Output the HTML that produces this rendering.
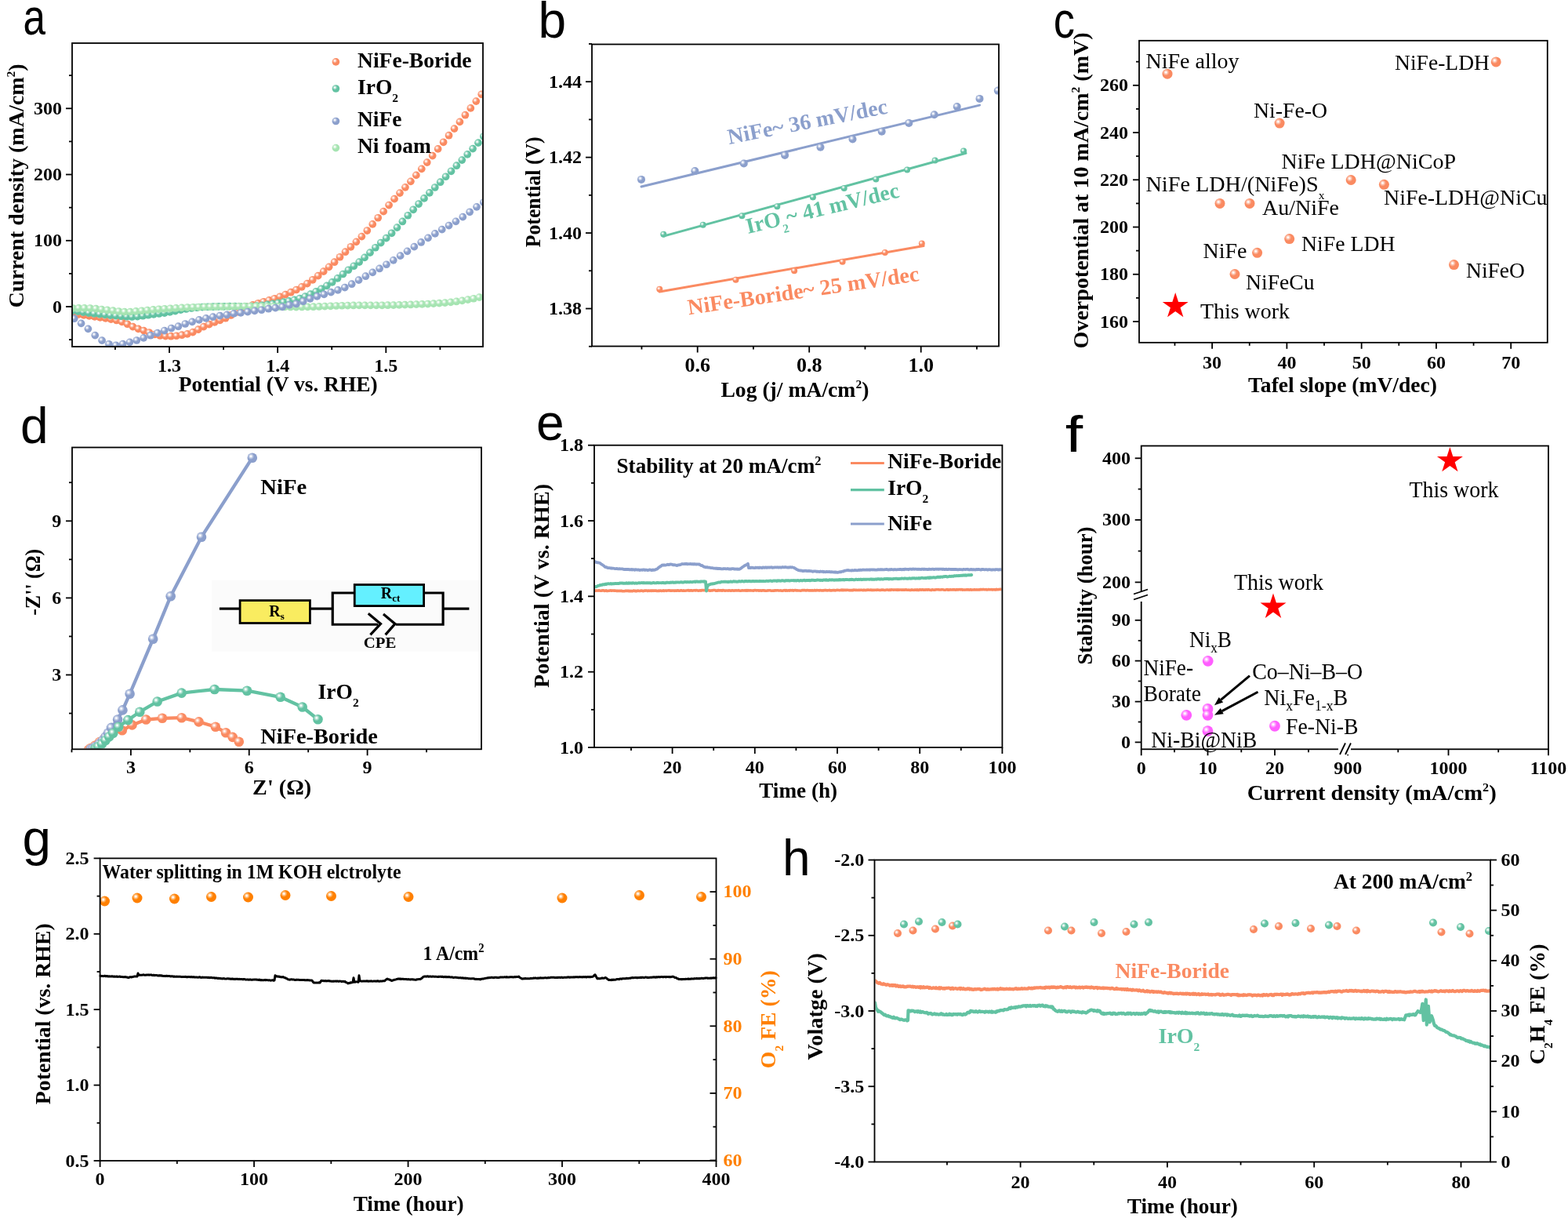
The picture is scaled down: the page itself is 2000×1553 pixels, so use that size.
<!DOCTYPE html><html><head><meta charset="utf-8"><title>Figure</title><style>html,body{margin:0;padding:0;background:#fff;overflow:hidden;}svg{display:block;}</style></head><body><svg width="2000" height="1553" viewBox="0 0 2000 1553"><defs><clipPath id="ca"><rect x="93" y="56" width="522" height="385"/></clipPath><radialGradient id="g0" cx="0.36" cy="0.35" r="0.66" gradientUnits="objectBoundingBox"><stop offset="0" stop-color="#ffffff"/><stop offset="0.07" stop-color="#ffffff"/><stop offset="0.25" stop-color="#fcc4b0"/><stop offset="0.5" stop-color="#FA8A61"/><stop offset="1" stop-color="#FA8A61"/></radialGradient><radialGradient id="g1" cx="0.36" cy="0.35" r="0.66" gradientUnits="objectBoundingBox"><stop offset="0" stop-color="#ffffff"/><stop offset="0.07" stop-color="#ffffff"/><stop offset="0.25" stop-color="#b0e0d0"/><stop offset="0.5" stop-color="#62C2A2"/><stop offset="1" stop-color="#62C2A2"/></radialGradient><radialGradient id="g2" cx="0.36" cy="0.35" r="0.66" gradientUnits="objectBoundingBox"><stop offset="0" stop-color="#ffffff"/><stop offset="0.07" stop-color="#ffffff"/><stop offset="0.25" stop-color="#d2f2d8"/><stop offset="0.5" stop-color="#A6E4B2"/><stop offset="1" stop-color="#A6E4B2"/></radialGradient><radialGradient id="g3" cx="0.36" cy="0.35" r="0.66" gradientUnits="objectBoundingBox"><stop offset="0" stop-color="#ffffff"/><stop offset="0.07" stop-color="#ffffff"/><stop offset="0.25" stop-color="#c5cfe6"/><stop offset="0.5" stop-color="#8B9FCC"/><stop offset="1" stop-color="#8B9FCC"/></radialGradient><clipPath id="cb"><rect x="756" y="57.5" width="517" height="383"/></clipPath><clipPath id="cd"><rect x="93" y="571.5" width="520" height="382.8"/></clipPath><clipPath id="ce"><rect x="759" y="568.5" width="518.5" height="383.5"/></clipPath><radialGradient id="g4" cx="0.36" cy="0.35" r="0.66" gradientUnits="objectBoundingBox"><stop offset="0" stop-color="#ffffff"/><stop offset="0.07" stop-color="#ffffff"/><stop offset="0.25" stop-color="#ffaeff"/><stop offset="0.5" stop-color="#FF5EFF"/><stop offset="1" stop-color="#FF5EFF"/></radialGradient><radialGradient id="g5" cx="0.36" cy="0.35" r="0.66" gradientUnits="objectBoundingBox"><stop offset="0" stop-color="#ffffff"/><stop offset="0.07" stop-color="#ffffff"/><stop offset="0.25" stop-color="#ffc080"/><stop offset="0.5" stop-color="#FF8000"/><stop offset="1" stop-color="#FF8000"/></radialGradient><clipPath id="ch"><rect x="1116.5" y="1097.5" width="783.5" height="383"/></clipPath></defs><rect x="0" y="0" width="2000" height="1553" fill="#fff"/><text x="29.5" y="43.5" font-family="'Liberation Sans',Arial,sans-serif" font-size="64" font-weight="normal" fill="#000" text-anchor="start" textLength="28.5" lengthAdjust="spacingAndGlyphs" >a</text>
<g clip-path="url(#ca)">
<circle cx="93" cy="400" r="4.85" fill="url(#g0)"/>
<circle cx="99.95" cy="400.96" r="4.85" fill="url(#g0)"/>
<circle cx="106.9" cy="401.92" r="4.85" fill="url(#g0)"/>
<circle cx="113.85" cy="402.88" r="4.85" fill="url(#g0)"/>
<circle cx="120.8" cy="403.87" r="4.85" fill="url(#g0)"/>
<circle cx="127.75" cy="404.86" r="4.85" fill="url(#g0)"/>
<circle cx="134.7" cy="405.88" r="4.85" fill="url(#g0)"/>
<circle cx="141.65" cy="407.09" r="4.85" fill="url(#g0)"/>
<circle cx="148.6" cy="408.51" r="4.85" fill="url(#g0)"/>
<circle cx="155.55" cy="410.41" r="4.85" fill="url(#g0)"/>
<circle cx="162.5" cy="413.25" r="4.85" fill="url(#g0)"/>
<circle cx="169.45" cy="416.61" r="4.85" fill="url(#g0)"/>
<circle cx="176.4" cy="419.35" r="4.85" fill="url(#g0)"/>
<circle cx="183.35" cy="421.61" r="4.85" fill="url(#g0)"/>
<circle cx="190.3" cy="424.02" r="4.85" fill="url(#g0)"/>
<circle cx="197.25" cy="426.5" r="4.85" fill="url(#g0)"/>
<circle cx="204.2" cy="428.02" r="4.85" fill="url(#g0)"/>
<circle cx="211.15" cy="428.61" r="4.85" fill="url(#g0)"/>
<circle cx="218.1" cy="428.71" r="4.85" fill="url(#g0)"/>
<circle cx="225.05" cy="428.27" r="4.85" fill="url(#g0)"/>
<circle cx="232" cy="427.21" r="4.85" fill="url(#g0)"/>
<circle cx="238.95" cy="425.87" r="4.85" fill="url(#g0)"/>
<circle cx="245.9" cy="423.64" r="4.85" fill="url(#g0)"/>
<circle cx="252.85" cy="420.19" r="4.85" fill="url(#g0)"/>
<circle cx="259.8" cy="416.62" r="4.85" fill="url(#g0)"/>
<circle cx="266.75" cy="413.64" r="4.85" fill="url(#g0)"/>
<circle cx="273.7" cy="410.9" r="4.85" fill="url(#g0)"/>
<circle cx="280.65" cy="408.32" r="4.85" fill="url(#g0)"/>
<circle cx="287.6" cy="405.76" r="4.85" fill="url(#g0)"/>
<circle cx="294.55" cy="401.95" r="4.85" fill="url(#g0)"/>
<circle cx="301.5" cy="398.03" r="4.85" fill="url(#g0)"/>
<circle cx="308.45" cy="394.42" r="4.85" fill="url(#g0)"/>
<circle cx="315.4" cy="391.26" r="4.85" fill="url(#g0)"/>
<circle cx="322.35" cy="388.87" r="4.85" fill="url(#g0)"/>
<circle cx="329.3" cy="386.8" r="4.85" fill="url(#g0)"/>
<circle cx="336.25" cy="384.8" r="4.85" fill="url(#g0)"/>
<circle cx="343.2" cy="382.87" r="4.85" fill="url(#g0)"/>
<circle cx="350.15" cy="380.75" r="4.85" fill="url(#g0)"/>
<circle cx="357.1" cy="378.27" r="4.85" fill="url(#g0)"/>
<circle cx="364.05" cy="375.59" r="4.85" fill="url(#g0)"/>
<circle cx="371" cy="372.7" r="4.85" fill="url(#g0)"/>
<circle cx="377.95" cy="369.52" r="4.85" fill="url(#g0)"/>
<circle cx="384.9" cy="365.85" r="4.85" fill="url(#g0)"/>
<circle cx="391.85" cy="361.57" r="4.85" fill="url(#g0)"/>
<circle cx="398.8" cy="356.78" r="4.85" fill="url(#g0)"/>
<circle cx="405.75" cy="351.68" r="4.85" fill="url(#g0)"/>
<circle cx="412.7" cy="346.16" r="4.85" fill="url(#g0)"/>
<circle cx="419.65" cy="340.33" r="4.85" fill="url(#g0)"/>
<circle cx="426.6" cy="334.21" r="4.85" fill="url(#g0)"/>
<circle cx="433.55" cy="327.76" r="4.85" fill="url(#g0)"/>
<circle cx="440.5" cy="321.22" r="4.85" fill="url(#g0)"/>
<circle cx="447.45" cy="314.79" r="4.85" fill="url(#g0)"/>
<circle cx="454.4" cy="308.37" r="4.85" fill="url(#g0)"/>
<circle cx="461.35" cy="301.58" r="4.85" fill="url(#g0)"/>
<circle cx="468.3" cy="294.03" r="4.85" fill="url(#g0)"/>
<circle cx="475.25" cy="285.88" r="4.85" fill="url(#g0)"/>
<circle cx="482.2" cy="277.74" r="4.85" fill="url(#g0)"/>
<circle cx="489.15" cy="269.64" r="4.85" fill="url(#g0)"/>
<circle cx="496.1" cy="261.54" r="4.85" fill="url(#g0)"/>
<circle cx="503.05" cy="253.62" r="4.85" fill="url(#g0)"/>
<circle cx="510" cy="246.08" r="4.85" fill="url(#g0)"/>
<circle cx="516.95" cy="238.81" r="4.85" fill="url(#g0)"/>
<circle cx="523.9" cy="231.33" r="4.85" fill="url(#g0)"/>
<circle cx="530.85" cy="223.44" r="4.85" fill="url(#g0)"/>
<circle cx="537.8" cy="215.33" r="4.85" fill="url(#g0)"/>
<circle cx="544.75" cy="207.06" r="4.85" fill="url(#g0)"/>
<circle cx="551.7" cy="198.58" r="4.85" fill="url(#g0)"/>
<circle cx="558.65" cy="189.91" r="4.85" fill="url(#g0)"/>
<circle cx="565.6" cy="181.29" r="4.85" fill="url(#g0)"/>
<circle cx="572.55" cy="172.7" r="4.85" fill="url(#g0)"/>
<circle cx="579.5" cy="164.09" r="4.85" fill="url(#g0)"/>
<circle cx="586.45" cy="155.44" r="4.85" fill="url(#g0)"/>
<circle cx="593.4" cy="146.7" r="4.85" fill="url(#g0)"/>
<circle cx="600.35" cy="137.91" r="4.85" fill="url(#g0)"/>
<circle cx="607.3" cy="129.11" r="4.85" fill="url(#g0)"/>
<circle cx="614.25" cy="120.3" r="4.85" fill="url(#g0)"/>
<circle cx="92.5" cy="396.17" r="4.85" fill="url(#g1)"/>
<circle cx="99.4" cy="397.14" r="4.85" fill="url(#g1)"/>
<circle cx="106.3" cy="398.1" r="4.85" fill="url(#g1)"/>
<circle cx="113.2" cy="399.03" r="4.85" fill="url(#g1)"/>
<circle cx="120.1" cy="399.89" r="4.85" fill="url(#g1)"/>
<circle cx="127" cy="400.66" r="4.85" fill="url(#g1)"/>
<circle cx="133.9" cy="401.37" r="4.85" fill="url(#g1)"/>
<circle cx="140.8" cy="402.03" r="4.85" fill="url(#g1)"/>
<circle cx="147.7" cy="402.65" r="4.85" fill="url(#g1)"/>
<circle cx="154.6" cy="403.21" r="4.85" fill="url(#g1)"/>
<circle cx="161.5" cy="403.76" r="4.85" fill="url(#g1)"/>
<circle cx="168.4" cy="403.96" r="4.85" fill="url(#g1)"/>
<circle cx="175.3" cy="403.56" r="4.85" fill="url(#g1)"/>
<circle cx="182.2" cy="402.7" r="4.85" fill="url(#g1)"/>
<circle cx="189.1" cy="401.72" r="4.85" fill="url(#g1)"/>
<circle cx="196" cy="400.85" r="4.85" fill="url(#g1)"/>
<circle cx="202.9" cy="399.99" r="4.85" fill="url(#g1)"/>
<circle cx="209.8" cy="399.04" r="4.85" fill="url(#g1)"/>
<circle cx="216.7" cy="397.94" r="4.85" fill="url(#g1)"/>
<circle cx="223.6" cy="396.58" r="4.85" fill="url(#g1)"/>
<circle cx="230.5" cy="395.19" r="4.85" fill="url(#g1)"/>
<circle cx="237.4" cy="393.99" r="4.85" fill="url(#g1)"/>
<circle cx="244.3" cy="393.02" r="4.85" fill="url(#g1)"/>
<circle cx="251.2" cy="392.23" r="4.85" fill="url(#g1)"/>
<circle cx="258.1" cy="391.66" r="4.85" fill="url(#g1)"/>
<circle cx="265" cy="391.27" r="4.85" fill="url(#g1)"/>
<circle cx="271.9" cy="391.04" r="4.85" fill="url(#g1)"/>
<circle cx="278.8" cy="390.89" r="4.85" fill="url(#g1)"/>
<circle cx="285.7" cy="390.79" r="4.85" fill="url(#g1)"/>
<circle cx="292.6" cy="390.69" r="4.85" fill="url(#g1)"/>
<circle cx="299.5" cy="390.7" r="4.85" fill="url(#g1)"/>
<circle cx="306.4" cy="390.79" r="4.85" fill="url(#g1)"/>
<circle cx="313.3" cy="390.82" r="4.85" fill="url(#g1)"/>
<circle cx="320.2" cy="390.63" r="4.85" fill="url(#g1)"/>
<circle cx="327.1" cy="390.12" r="4.85" fill="url(#g1)"/>
<circle cx="334" cy="389.37" r="4.85" fill="url(#g1)"/>
<circle cx="340.9" cy="388.45" r="4.85" fill="url(#g1)"/>
<circle cx="347.8" cy="387.41" r="4.85" fill="url(#g1)"/>
<circle cx="354.7" cy="386.31" r="4.85" fill="url(#g1)"/>
<circle cx="361.6" cy="385.16" r="4.85" fill="url(#g1)"/>
<circle cx="368.5" cy="383.9" r="4.85" fill="url(#g1)"/>
<circle cx="375.4" cy="382.41" r="4.85" fill="url(#g1)"/>
<circle cx="382.3" cy="380.51" r="4.85" fill="url(#g1)"/>
<circle cx="389.2" cy="378.07" r="4.85" fill="url(#g1)"/>
<circle cx="396.1" cy="375.11" r="4.85" fill="url(#g1)"/>
<circle cx="403" cy="371.84" r="4.85" fill="url(#g1)"/>
<circle cx="409.9" cy="368.29" r="4.85" fill="url(#g1)"/>
<circle cx="416.8" cy="364.35" r="4.85" fill="url(#g1)"/>
<circle cx="423.7" cy="359.92" r="4.85" fill="url(#g1)"/>
<circle cx="430.6" cy="354.85" r="4.85" fill="url(#g1)"/>
<circle cx="437.5" cy="349.49" r="4.85" fill="url(#g1)"/>
<circle cx="444.4" cy="344.27" r="4.85" fill="url(#g1)"/>
<circle cx="451.3" cy="339.24" r="4.85" fill="url(#g1)"/>
<circle cx="458.2" cy="334.07" r="4.85" fill="url(#g1)"/>
<circle cx="465.1" cy="328.4" r="4.85" fill="url(#g1)"/>
<circle cx="472" cy="322.19" r="4.85" fill="url(#g1)"/>
<circle cx="478.9" cy="315.76" r="4.85" fill="url(#g1)"/>
<circle cx="485.8" cy="309.53" r="4.85" fill="url(#g1)"/>
<circle cx="492.7" cy="303.63" r="4.85" fill="url(#g1)"/>
<circle cx="499.6" cy="297.29" r="4.85" fill="url(#g1)"/>
<circle cx="506.5" cy="290.1" r="4.85" fill="url(#g1)"/>
<circle cx="513.4" cy="282.45" r="4.85" fill="url(#g1)"/>
<circle cx="520.3" cy="274.75" r="4.85" fill="url(#g1)"/>
<circle cx="527.2" cy="267.3" r="4.85" fill="url(#g1)"/>
<circle cx="534.1" cy="260.03" r="4.85" fill="url(#g1)"/>
<circle cx="541" cy="252.89" r="4.85" fill="url(#g1)"/>
<circle cx="547.9" cy="245.87" r="4.85" fill="url(#g1)"/>
<circle cx="554.8" cy="239.01" r="4.85" fill="url(#g1)"/>
<circle cx="561.7" cy="232.2" r="4.85" fill="url(#g1)"/>
<circle cx="568.6" cy="225.27" r="4.85" fill="url(#g1)"/>
<circle cx="575.5" cy="218.29" r="4.85" fill="url(#g1)"/>
<circle cx="582.4" cy="211.22" r="4.85" fill="url(#g1)"/>
<circle cx="589.3" cy="204.07" r="4.85" fill="url(#g1)"/>
<circle cx="596.2" cy="196.88" r="4.85" fill="url(#g1)"/>
<circle cx="603.1" cy="189.62" r="4.85" fill="url(#g1)"/>
<circle cx="610" cy="182.19" r="4.85" fill="url(#g1)"/>
<circle cx="616.9" cy="173.99" r="4.85" fill="url(#g1)"/>
<circle cx="93.1" cy="393" r="4.85" fill="url(#g2)"/>
<circle cx="100.4" cy="392.89" r="4.85" fill="url(#g2)"/>
<circle cx="107.7" cy="392.83" r="4.85" fill="url(#g2)"/>
<circle cx="115" cy="393.01" r="4.85" fill="url(#g2)"/>
<circle cx="122.3" cy="393.63" r="4.85" fill="url(#g2)"/>
<circle cx="129.6" cy="394.5" r="4.85" fill="url(#g2)"/>
<circle cx="136.9" cy="395.34" r="4.85" fill="url(#g2)"/>
<circle cx="144.2" cy="396.18" r="4.85" fill="url(#g2)"/>
<circle cx="151.5" cy="397.01" r="4.85" fill="url(#g2)"/>
<circle cx="158.8" cy="397.65" r="4.85" fill="url(#g2)"/>
<circle cx="166.1" cy="397.64" r="4.85" fill="url(#g2)"/>
<circle cx="173.4" cy="396.93" r="4.85" fill="url(#g2)"/>
<circle cx="180.7" cy="396.27" r="4.85" fill="url(#g2)"/>
<circle cx="188" cy="395.56" r="4.85" fill="url(#g2)"/>
<circle cx="195.3" cy="394.87" r="4.85" fill="url(#g2)"/>
<circle cx="202.6" cy="394.28" r="4.85" fill="url(#g2)"/>
<circle cx="209.9" cy="393.76" r="4.85" fill="url(#g2)"/>
<circle cx="217.2" cy="393.28" r="4.85" fill="url(#g2)"/>
<circle cx="224.5" cy="392.84" r="4.85" fill="url(#g2)"/>
<circle cx="231.8" cy="392.41" r="4.85" fill="url(#g2)"/>
<circle cx="239.1" cy="392.04" r="4.85" fill="url(#g2)"/>
<circle cx="246.4" cy="391.75" r="4.85" fill="url(#g2)"/>
<circle cx="253.7" cy="391.54" r="4.85" fill="url(#g2)"/>
<circle cx="261" cy="391.38" r="4.85" fill="url(#g2)"/>
<circle cx="268.3" cy="391.24" r="4.85" fill="url(#g2)"/>
<circle cx="275.6" cy="391.11" r="4.85" fill="url(#g2)"/>
<circle cx="282.9" cy="390.98" r="4.85" fill="url(#g2)"/>
<circle cx="290.2" cy="390.87" r="4.85" fill="url(#g2)"/>
<circle cx="297.5" cy="390.78" r="4.85" fill="url(#g2)"/>
<circle cx="304.8" cy="390.72" r="4.85" fill="url(#g2)"/>
<circle cx="312.1" cy="390.67" r="4.85" fill="url(#g2)"/>
<circle cx="319.4" cy="390.63" r="4.85" fill="url(#g2)"/>
<circle cx="326.7" cy="390.62" r="4.85" fill="url(#g2)"/>
<circle cx="334" cy="390.66" r="4.85" fill="url(#g2)"/>
<circle cx="341.3" cy="390.76" r="4.85" fill="url(#g2)"/>
<circle cx="348.6" cy="390.96" r="4.85" fill="url(#g2)"/>
<circle cx="355.9" cy="391.2" r="4.85" fill="url(#g2)"/>
<circle cx="363.2" cy="391.41" r="4.85" fill="url(#g2)"/>
<circle cx="370.5" cy="391.51" r="4.85" fill="url(#g2)"/>
<circle cx="377.8" cy="391.53" r="4.85" fill="url(#g2)"/>
<circle cx="385.1" cy="391.49" r="4.85" fill="url(#g2)"/>
<circle cx="392.4" cy="391.37" r="4.85" fill="url(#g2)"/>
<circle cx="399.7" cy="391.21" r="4.85" fill="url(#g2)"/>
<circle cx="407" cy="390.96" r="4.85" fill="url(#g2)"/>
<circle cx="414.3" cy="390.63" r="4.85" fill="url(#g2)"/>
<circle cx="421.6" cy="390.29" r="4.85" fill="url(#g2)"/>
<circle cx="428.9" cy="389.98" r="4.85" fill="url(#g2)"/>
<circle cx="436.2" cy="389.74" r="4.85" fill="url(#g2)"/>
<circle cx="443.5" cy="389.57" r="4.85" fill="url(#g2)"/>
<circle cx="450.8" cy="389.47" r="4.85" fill="url(#g2)"/>
<circle cx="458.1" cy="389.42" r="4.85" fill="url(#g2)"/>
<circle cx="465.4" cy="389.39" r="4.85" fill="url(#g2)"/>
<circle cx="472.7" cy="389.37" r="4.85" fill="url(#g2)"/>
<circle cx="480" cy="389.34" r="4.85" fill="url(#g2)"/>
<circle cx="487.3" cy="389.29" r="4.85" fill="url(#g2)"/>
<circle cx="494.6" cy="389.22" r="4.85" fill="url(#g2)"/>
<circle cx="501.9" cy="389.1" r="4.85" fill="url(#g2)"/>
<circle cx="509.2" cy="388.91" r="4.85" fill="url(#g2)"/>
<circle cx="516.5" cy="388.69" r="4.85" fill="url(#g2)"/>
<circle cx="523.8" cy="388.45" r="4.85" fill="url(#g2)"/>
<circle cx="531.1" cy="388.18" r="4.85" fill="url(#g2)"/>
<circle cx="538.4" cy="387.87" r="4.85" fill="url(#g2)"/>
<circle cx="545.7" cy="387.53" r="4.85" fill="url(#g2)"/>
<circle cx="553" cy="387.14" r="4.85" fill="url(#g2)"/>
<circle cx="560.3" cy="386.68" r="4.85" fill="url(#g2)"/>
<circle cx="567.6" cy="386.11" r="4.85" fill="url(#g2)"/>
<circle cx="574.9" cy="385.38" r="4.85" fill="url(#g2)"/>
<circle cx="582.2" cy="384.45" r="4.85" fill="url(#g2)"/>
<circle cx="589.5" cy="383.32" r="4.85" fill="url(#g2)"/>
<circle cx="596.8" cy="382.06" r="4.85" fill="url(#g2)"/>
<circle cx="604.1" cy="380.74" r="4.85" fill="url(#g2)"/>
<circle cx="611.4" cy="379.13" r="4.85" fill="url(#g2)"/>
<circle cx="618.7" cy="377.31" r="4.85" fill="url(#g2)"/>
<circle cx="94.7" cy="406.2" r="4.85" fill="url(#g3)"/>
<circle cx="103.55" cy="412.36" r="4.85" fill="url(#g3)"/>
<circle cx="112.4" cy="419.31" r="4.85" fill="url(#g3)"/>
<circle cx="121.25" cy="427.61" r="4.85" fill="url(#g3)"/>
<circle cx="130.1" cy="434.16" r="4.85" fill="url(#g3)"/>
<circle cx="138.95" cy="438.75" r="4.85" fill="url(#g3)"/>
<circle cx="147.8" cy="440.29" r="4.85" fill="url(#g3)"/>
<circle cx="156.65" cy="438.62" r="4.85" fill="url(#g3)"/>
<circle cx="165.5" cy="436.32" r="4.85" fill="url(#g3)"/>
<circle cx="174.35" cy="433.99" r="4.85" fill="url(#g3)"/>
<circle cx="183.2" cy="430.82" r="4.85" fill="url(#g3)"/>
<circle cx="192.05" cy="427.71" r="4.85" fill="url(#g3)"/>
<circle cx="200.9" cy="424.63" r="4.85" fill="url(#g3)"/>
<circle cx="209.75" cy="421.58" r="4.85" fill="url(#g3)"/>
<circle cx="218.6" cy="418.51" r="4.85" fill="url(#g3)"/>
<circle cx="227.45" cy="416.22" r="4.85" fill="url(#g3)"/>
<circle cx="236.3" cy="413" r="4.85" fill="url(#g3)"/>
<circle cx="245.15" cy="410.36" r="4.85" fill="url(#g3)"/>
<circle cx="254" cy="407.87" r="4.85" fill="url(#g3)"/>
<circle cx="262.85" cy="405.83" r="4.85" fill="url(#g3)"/>
<circle cx="271.7" cy="404.14" r="4.85" fill="url(#g3)"/>
<circle cx="280.55" cy="402.55" r="4.85" fill="url(#g3)"/>
<circle cx="289.4" cy="401.47" r="4.85" fill="url(#g3)"/>
<circle cx="298.25" cy="399.92" r="4.85" fill="url(#g3)"/>
<circle cx="307.1" cy="398.89" r="4.85" fill="url(#g3)"/>
<circle cx="315.95" cy="397.63" r="4.85" fill="url(#g3)"/>
<circle cx="324.8" cy="396.35" r="4.85" fill="url(#g3)"/>
<circle cx="333.65" cy="395.26" r="4.85" fill="url(#g3)"/>
<circle cx="342.5" cy="393.72" r="4.85" fill="url(#g3)"/>
<circle cx="351.35" cy="392.68" r="4.85" fill="url(#g3)"/>
<circle cx="360.2" cy="391.39" r="4.85" fill="url(#g3)"/>
<circle cx="369.05" cy="388.93" r="4.85" fill="url(#g3)"/>
<circle cx="377.9" cy="387.49" r="4.85" fill="url(#g3)"/>
<circle cx="386.75" cy="384.22" r="4.85" fill="url(#g3)"/>
<circle cx="395.6" cy="380.84" r="4.85" fill="url(#g3)"/>
<circle cx="404.45" cy="377.91" r="4.85" fill="url(#g3)"/>
<circle cx="413.3" cy="375.38" r="4.85" fill="url(#g3)"/>
<circle cx="422.15" cy="372.69" r="4.85" fill="url(#g3)"/>
<circle cx="431" cy="369.84" r="4.85" fill="url(#g3)"/>
<circle cx="439.85" cy="366.55" r="4.85" fill="url(#g3)"/>
<circle cx="448.7" cy="362.21" r="4.85" fill="url(#g3)"/>
<circle cx="457.55" cy="357.15" r="4.85" fill="url(#g3)"/>
<circle cx="466.4" cy="352.22" r="4.85" fill="url(#g3)"/>
<circle cx="475.25" cy="347.43" r="4.85" fill="url(#g3)"/>
<circle cx="484.1" cy="342.47" r="4.85" fill="url(#g3)"/>
<circle cx="492.95" cy="337.24" r="4.85" fill="url(#g3)"/>
<circle cx="501.8" cy="331.82" r="4.85" fill="url(#g3)"/>
<circle cx="510.65" cy="326.17" r="4.85" fill="url(#g3)"/>
<circle cx="519.5" cy="320.34" r="4.85" fill="url(#g3)"/>
<circle cx="528.35" cy="314.64" r="4.85" fill="url(#g3)"/>
<circle cx="537.2" cy="308.97" r="4.85" fill="url(#g3)"/>
<circle cx="546.05" cy="303.36" r="4.85" fill="url(#g3)"/>
<circle cx="554.9" cy="297.88" r="4.85" fill="url(#g3)"/>
<circle cx="563.75" cy="292.64" r="4.85" fill="url(#g3)"/>
<circle cx="572.6" cy="287.54" r="4.85" fill="url(#g3)"/>
<circle cx="581.45" cy="282.32" r="4.85" fill="url(#g3)"/>
<circle cx="590.3" cy="276.65" r="4.85" fill="url(#g3)"/>
<circle cx="599.15" cy="270.3" r="4.85" fill="url(#g3)"/>
<circle cx="608" cy="263.83" r="4.85" fill="url(#g3)"/>
<circle cx="616.85" cy="258" r="4.85" fill="url(#g3)"/>
</g>
<rect x="92" y="55" width="524" height="387" fill="none" stroke="#000" stroke-width="1.8"/>
<line x1="84" y1="391" x2="92" y2="391" stroke="#000" stroke-width="1.8" stroke-linecap="butt"/>
<line x1="84" y1="306.77" x2="92" y2="306.77" stroke="#000" stroke-width="1.8" stroke-linecap="butt"/>
<line x1="84" y1="222.53" x2="92" y2="222.53" stroke="#000" stroke-width="1.8" stroke-linecap="butt"/>
<line x1="84" y1="138.3" x2="92" y2="138.3" stroke="#000" stroke-width="1.8" stroke-linecap="butt"/>
<line x1="88" y1="433.12" x2="92" y2="433.12" stroke="#000" stroke-width="1.8" stroke-linecap="butt"/>
<line x1="88" y1="348.88" x2="92" y2="348.88" stroke="#000" stroke-width="1.8" stroke-linecap="butt"/>
<line x1="88" y1="264.65" x2="92" y2="264.65" stroke="#000" stroke-width="1.8" stroke-linecap="butt"/>
<line x1="88" y1="180.42" x2="92" y2="180.42" stroke="#000" stroke-width="1.8" stroke-linecap="butt"/>
<line x1="88" y1="96.18" x2="92" y2="96.18" stroke="#000" stroke-width="1.8" stroke-linecap="butt"/>
<line x1="216" y1="442" x2="216" y2="450" stroke="#000" stroke-width="1.8" stroke-linecap="butt"/>
<line x1="354.15" y1="442" x2="354.15" y2="450" stroke="#000" stroke-width="1.8" stroke-linecap="butt"/>
<line x1="492.3" y1="442" x2="492.3" y2="450" stroke="#000" stroke-width="1.8" stroke-linecap="butt"/>
<line x1="146.92" y1="442" x2="146.92" y2="446" stroke="#000" stroke-width="1.8" stroke-linecap="butt"/>
<line x1="285.08" y1="442" x2="285.08" y2="446" stroke="#000" stroke-width="1.8" stroke-linecap="butt"/>
<line x1="423.22" y1="442" x2="423.22" y2="446" stroke="#000" stroke-width="1.8" stroke-linecap="butt"/>
<line x1="561.38" y1="442" x2="561.38" y2="446" stroke="#000" stroke-width="1.8" stroke-linecap="butt"/>
<text x="79" y="398.56" font-family="'Liberation Serif','Times New Roman',serif" font-size="24" font-weight="bold" fill="#000" text-anchor="end" >0</text>
<text x="79" y="314.33" font-family="'Liberation Serif','Times New Roman',serif" font-size="24" font-weight="bold" fill="#000" text-anchor="end" >100</text>
<text x="79" y="230.09" font-family="'Liberation Serif','Times New Roman',serif" font-size="24" font-weight="bold" fill="#000" text-anchor="end" >200</text>
<text x="79" y="145.86" font-family="'Liberation Serif','Times New Roman',serif" font-size="24" font-weight="bold" fill="#000" text-anchor="end" >300</text>
<text x="216" y="474.2" font-family="'Liberation Serif','Times New Roman',serif" font-size="24" font-weight="bold" fill="#000" text-anchor="middle" >1.3</text>
<text x="354.15" y="474.2" font-family="'Liberation Serif','Times New Roman',serif" font-size="24" font-weight="bold" fill="#000" text-anchor="middle" >1.4</text>
<text x="492.3" y="474.2" font-family="'Liberation Serif','Times New Roman',serif" font-size="24" font-weight="bold" fill="#000" text-anchor="middle" >1.5</text>
<text x="354.7" y="499" font-family="'Liberation Serif','Times New Roman',serif" font-size="27" font-weight="bold" fill="#000" text-anchor="middle" textLength="254" lengthAdjust="spacingAndGlyphs" >Potential (V vs. RHE)</text>
<text x="29.7" y="236.9" font-family="'Liberation Serif','Times New Roman',serif" font-size="28" font-weight="bold" fill="#000" text-anchor="middle" textLength="311" lengthAdjust="spacingAndGlyphs" transform="rotate(-90 29.7 236.9)" >Current density (mA/cm<tspan font-size="15.5" dy="-11">2</tspan><tspan dy="11">)</tspan></text>
<circle cx="428.4" cy="78.9" r="4.8" fill="url(#g0)"/>
<text x="456" y="85.7" font-family="'Liberation Serif','Times New Roman',serif" font-size="27.5" font-weight="bold" fill="#000" text-anchor="start" textLength="145.5" lengthAdjust="spacingAndGlyphs" >NiFe-Boride</text>
<circle cx="428.4" cy="113" r="4.8" fill="url(#g1)"/>
<text x="456" y="119.9" font-family="'Liberation Serif','Times New Roman',serif" font-size="27.5" font-weight="bold" fill="#000" text-anchor="start" >IrO<tspan font-size="15.5" dy="10">2</tspan></text>
<circle cx="428.4" cy="154.5" r="4.8" fill="url(#g3)"/>
<text x="456" y="161.3" font-family="'Liberation Serif','Times New Roman',serif" font-size="27.5" font-weight="bold" fill="#000" text-anchor="start" >NiFe</text>
<circle cx="428.4" cy="188.6" r="4.8" fill="url(#g2)"/>
<text x="456" y="195" font-family="'Liberation Serif','Times New Roman',serif" font-size="27.5" font-weight="bold" fill="#000" text-anchor="start" >Ni foam</text>
<text x="686.5" y="48" font-family="'Liberation Sans',Arial,sans-serif" font-size="64" font-weight="normal" fill="#000" text-anchor="start" >b</text>
<g clip-path="url(#cb)">
<line x1="818" y1="238" x2="1249.5" y2="134.1" stroke="#8B9FCC" stroke-width="3" stroke-linecap="round"/>
<circle cx="818" cy="228.9" r="5" fill="url(#g3)"/>
<circle cx="886.4" cy="218.1" r="5" fill="url(#g3)"/>
<circle cx="948.8" cy="208.5" r="5" fill="url(#g3)"/>
<circle cx="1001.1" cy="197.9" r="5" fill="url(#g3)"/>
<circle cx="1046.5" cy="187.8" r="5" fill="url(#g3)"/>
<circle cx="1087.5" cy="177.5" r="5" fill="url(#g3)"/>
<circle cx="1124.7" cy="167.7" r="5" fill="url(#g3)"/>
<circle cx="1159.3" cy="156.9" r="5" fill="url(#g3)"/>
<circle cx="1191.7" cy="146.3" r="5" fill="url(#g3)"/>
<circle cx="1220.7" cy="136" r="5" fill="url(#g3)"/>
<circle cx="1249.5" cy="125.9" r="5" fill="url(#g3)"/>
<circle cx="1272.8" cy="115.6" r="5" fill="url(#g3)"/>
<line x1="846.3" y1="301.1" x2="1232" y2="195.3" stroke="#62C2A2" stroke-width="3" stroke-linecap="round"/>
<circle cx="846.3" cy="298.7" r="4" fill="url(#g1)"/>
<circle cx="896.7" cy="286.7" r="4" fill="url(#g1)"/>
<circle cx="946.4" cy="275.2" r="4" fill="url(#g1)"/>
<circle cx="991.3" cy="263.2" r="4" fill="url(#g1)"/>
<circle cx="1036.9" cy="251.4" r="4" fill="url(#g1)"/>
<circle cx="1076.7" cy="239.9" r="4" fill="url(#g1)"/>
<circle cx="1117.3" cy="228.4" r="4" fill="url(#g1)"/>
<circle cx="1157.1" cy="216.6" r="4" fill="url(#g1)"/>
<circle cx="1192.6" cy="204.6" r="4" fill="url(#g1)"/>
<circle cx="1229.1" cy="192.6" r="4" fill="url(#g1)"/>
<line x1="841.3" y1="371.9" x2="1178" y2="313.6" stroke="#FA8A61" stroke-width="3" stroke-linecap="round"/>
<circle cx="841.3" cy="368.8" r="4" fill="url(#g0)"/>
<circle cx="938.5" cy="356.8" r="4" fill="url(#g0)"/>
<circle cx="1013.1" cy="345.3" r="4" fill="url(#g0)"/>
<circle cx="1074.6" cy="333.8" r="4" fill="url(#g0)"/>
<circle cx="1128.8" cy="322" r="4" fill="url(#g0)"/>
<circle cx="1175.8" cy="310.5" r="4" fill="url(#g0)"/>
</g>
<rect x="755" y="56.5" width="519" height="385" fill="none" stroke="#000" stroke-width="1.8"/>
<line x1="747" y1="393.5" x2="755" y2="393.5" stroke="#000" stroke-width="1.8" stroke-linecap="butt"/>
<line x1="747" y1="297.07" x2="755" y2="297.07" stroke="#000" stroke-width="1.8" stroke-linecap="butt"/>
<line x1="747" y1="200.63" x2="755" y2="200.63" stroke="#000" stroke-width="1.8" stroke-linecap="butt"/>
<line x1="747" y1="104.2" x2="755" y2="104.2" stroke="#000" stroke-width="1.8" stroke-linecap="butt"/>
<line x1="751" y1="441.72" x2="755" y2="441.72" stroke="#000" stroke-width="1.8" stroke-linecap="butt"/>
<line x1="751" y1="345.28" x2="755" y2="345.28" stroke="#000" stroke-width="1.8" stroke-linecap="butt"/>
<line x1="751" y1="248.85" x2="755" y2="248.85" stroke="#000" stroke-width="1.8" stroke-linecap="butt"/>
<line x1="751" y1="152.42" x2="755" y2="152.42" stroke="#000" stroke-width="1.8" stroke-linecap="butt"/>
<line x1="751" y1="55.98" x2="755" y2="55.98" stroke="#000" stroke-width="1.8" stroke-linecap="butt"/>
<line x1="889.7" y1="441.5" x2="889.7" y2="449.5" stroke="#000" stroke-width="1.8" stroke-linecap="butt"/>
<line x1="1032.2" y1="441.5" x2="1032.2" y2="449.5" stroke="#000" stroke-width="1.8" stroke-linecap="butt"/>
<line x1="1174.7" y1="441.5" x2="1174.7" y2="449.5" stroke="#000" stroke-width="1.8" stroke-linecap="butt"/>
<line x1="818.45" y1="441.5" x2="818.45" y2="445.5" stroke="#000" stroke-width="1.8" stroke-linecap="butt"/>
<line x1="960.95" y1="441.5" x2="960.95" y2="445.5" stroke="#000" stroke-width="1.8" stroke-linecap="butt"/>
<line x1="1103.45" y1="441.5" x2="1103.45" y2="445.5" stroke="#000" stroke-width="1.8" stroke-linecap="butt"/>
<line x1="1245.95" y1="441.5" x2="1245.95" y2="445.5" stroke="#000" stroke-width="1.8" stroke-linecap="butt"/>
<text x="742" y="401.06" font-family="'Liberation Serif','Times New Roman',serif" font-size="24" font-weight="bold" fill="#000" text-anchor="end" >1.38</text>
<text x="742" y="304.63" font-family="'Liberation Serif','Times New Roman',serif" font-size="24" font-weight="bold" fill="#000" text-anchor="end" >1.40</text>
<text x="742" y="208.19" font-family="'Liberation Serif','Times New Roman',serif" font-size="24" font-weight="bold" fill="#000" text-anchor="end" >1.42</text>
<text x="742" y="111.76" font-family="'Liberation Serif','Times New Roman',serif" font-size="24" font-weight="bold" fill="#000" text-anchor="end" >1.44</text>
<text x="889.7" y="474" font-family="'Liberation Serif','Times New Roman',serif" font-size="26" font-weight="bold" fill="#000" text-anchor="middle" >0.6</text>
<text x="1032.2" y="474" font-family="'Liberation Serif','Times New Roman',serif" font-size="26" font-weight="bold" fill="#000" text-anchor="middle" >0.8</text>
<text x="1174.7" y="474" font-family="'Liberation Serif','Times New Roman',serif" font-size="26" font-weight="bold" fill="#000" text-anchor="middle" >1.0</text>
<text x="1013.9" y="505.5" font-family="'Liberation Serif','Times New Roman',serif" font-size="27.5" font-weight="bold" fill="#000" text-anchor="middle" textLength="189" lengthAdjust="spacingAndGlyphs" >Log (j/ mA/cm<tspan font-size="15.5" dy="-11">2</tspan><tspan dy="11">)</tspan></text>
<text x="689" y="244.8" font-family="'Liberation Serif','Times New Roman',serif" font-size="28" font-weight="bold" fill="#000" text-anchor="middle" textLength="141" lengthAdjust="spacingAndGlyphs" transform="rotate(-90 689 244.8)" >Potential (V)</text>
<text x="930" y="184" font-family="'Liberation Serif','Times New Roman',serif" font-size="28" font-weight="bold" fill="#8B9FCC" text-anchor="start" textLength="207" lengthAdjust="spacingAndGlyphs" transform="rotate(-11.05 930 184)" >NiFe~ 36 mV/dec</text>
<text x="954" y="298" font-family="'Liberation Serif','Times New Roman',serif" font-size="28" font-weight="bold" fill="#62C2A2" text-anchor="start" textLength="200" lengthAdjust="spacingAndGlyphs" transform="rotate(-13.6 954 298)" >IrO<tspan font-size="15.5" dy="10">2</tspan><tspan dy="-10">~ 41 mV/dec</tspan></text>
<text x="878.5" y="401.2" font-family="'Liberation Serif','Times New Roman',serif" font-size="28" font-weight="bold" fill="#FA8A61" text-anchor="start" textLength="298" lengthAdjust="spacingAndGlyphs" transform="rotate(-8.36 878.5 401.2)" >NiFe-Boride~ 25 mV/dec</text>
<text x="1343.8" y="47.5" font-family="'Liberation Sans',Arial,sans-serif" font-size="64" font-weight="normal" fill="#000" text-anchor="start" textLength="27.2" lengthAdjust="spacingAndGlyphs" >c</text>
<circle cx="1489" cy="94.2" r="6.5" fill="url(#g0)"/>
<circle cx="1908.2" cy="78.9" r="6.5" fill="url(#g0)"/>
<circle cx="1632.1" cy="157.1" r="6.5" fill="url(#g0)"/>
<circle cx="1723.2" cy="229.5" r="6.5" fill="url(#g0)"/>
<circle cx="1765.4" cy="235.3" r="6.5" fill="url(#g0)"/>
<circle cx="1556" cy="259.4" r="6.5" fill="url(#g0)"/>
<circle cx="1594" cy="259.4" r="6.5" fill="url(#g0)"/>
<circle cx="1644.7" cy="304.6" r="6.5" fill="url(#g0)"/>
<circle cx="1603.6" cy="322.3" r="6.5" fill="url(#g0)"/>
<circle cx="1575" cy="349.5" r="6.5" fill="url(#g0)"/>
<circle cx="1854.5" cy="337.6" r="6.5" fill="url(#g0)"/>
<polygon points="1499.2,373 1503.08,384.96 1515.65,384.95 1505.48,392.34 1509.37,404.3 1499.2,396.9 1489.03,404.3 1492.92,392.34 1482.75,384.95 1495.32,384.96" fill="#ff0000"/>
<rect x="1453" y="51.8" width="520.8" height="385" fill="none" stroke="#000" stroke-width="1.8"/>
<line x1="1445" y1="410" x2="1453" y2="410" stroke="#000" stroke-width="1.8" stroke-linecap="butt"/>
<line x1="1445" y1="349.76" x2="1453" y2="349.76" stroke="#000" stroke-width="1.8" stroke-linecap="butt"/>
<line x1="1445" y1="289.52" x2="1453" y2="289.52" stroke="#000" stroke-width="1.8" stroke-linecap="butt"/>
<line x1="1445" y1="229.28" x2="1453" y2="229.28" stroke="#000" stroke-width="1.8" stroke-linecap="butt"/>
<line x1="1445" y1="169.04" x2="1453" y2="169.04" stroke="#000" stroke-width="1.8" stroke-linecap="butt"/>
<line x1="1445" y1="108.8" x2="1453" y2="108.8" stroke="#000" stroke-width="1.8" stroke-linecap="butt"/>
<line x1="1449" y1="379.88" x2="1453" y2="379.88" stroke="#000" stroke-width="1.8" stroke-linecap="butt"/>
<line x1="1449" y1="319.64" x2="1453" y2="319.64" stroke="#000" stroke-width="1.8" stroke-linecap="butt"/>
<line x1="1449" y1="259.4" x2="1453" y2="259.4" stroke="#000" stroke-width="1.8" stroke-linecap="butt"/>
<line x1="1449" y1="199.16" x2="1453" y2="199.16" stroke="#000" stroke-width="1.8" stroke-linecap="butt"/>
<line x1="1449" y1="138.92" x2="1453" y2="138.92" stroke="#000" stroke-width="1.8" stroke-linecap="butt"/>
<line x1="1449" y1="78.68" x2="1453" y2="78.68" stroke="#000" stroke-width="1.8" stroke-linecap="butt"/>
<line x1="1546.1" y1="436.8" x2="1546.1" y2="444.8" stroke="#000" stroke-width="1.8" stroke-linecap="butt"/>
<line x1="1641.38" y1="436.8" x2="1641.38" y2="444.8" stroke="#000" stroke-width="1.8" stroke-linecap="butt"/>
<line x1="1736.65" y1="436.8" x2="1736.65" y2="444.8" stroke="#000" stroke-width="1.8" stroke-linecap="butt"/>
<line x1="1831.93" y1="436.8" x2="1831.93" y2="444.8" stroke="#000" stroke-width="1.8" stroke-linecap="butt"/>
<line x1="1927.2" y1="436.8" x2="1927.2" y2="444.8" stroke="#000" stroke-width="1.8" stroke-linecap="butt"/>
<line x1="1498.46" y1="436.8" x2="1498.46" y2="440.8" stroke="#000" stroke-width="1.8" stroke-linecap="butt"/>
<line x1="1593.74" y1="436.8" x2="1593.74" y2="440.8" stroke="#000" stroke-width="1.8" stroke-linecap="butt"/>
<line x1="1689.01" y1="436.8" x2="1689.01" y2="440.8" stroke="#000" stroke-width="1.8" stroke-linecap="butt"/>
<line x1="1784.29" y1="436.8" x2="1784.29" y2="440.8" stroke="#000" stroke-width="1.8" stroke-linecap="butt"/>
<line x1="1879.56" y1="436.8" x2="1879.56" y2="440.8" stroke="#000" stroke-width="1.8" stroke-linecap="butt"/>
<text x="1439" y="417.56" font-family="'Liberation Serif','Times New Roman',serif" font-size="24" font-weight="bold" fill="#000" text-anchor="end" >160</text>
<text x="1439" y="357.32" font-family="'Liberation Serif','Times New Roman',serif" font-size="24" font-weight="bold" fill="#000" text-anchor="end" >180</text>
<text x="1439" y="297.08" font-family="'Liberation Serif','Times New Roman',serif" font-size="24" font-weight="bold" fill="#000" text-anchor="end" >200</text>
<text x="1439" y="236.84" font-family="'Liberation Serif','Times New Roman',serif" font-size="24" font-weight="bold" fill="#000" text-anchor="end" >220</text>
<text x="1439" y="176.6" font-family="'Liberation Serif','Times New Roman',serif" font-size="24" font-weight="bold" fill="#000" text-anchor="end" >240</text>
<text x="1439" y="116.36" font-family="'Liberation Serif','Times New Roman',serif" font-size="24" font-weight="bold" fill="#000" text-anchor="end" >260</text>
<text x="1546.1" y="469.7" font-family="'Liberation Serif','Times New Roman',serif" font-size="24" font-weight="bold" fill="#000" text-anchor="middle" >30</text>
<text x="1641.38" y="469.7" font-family="'Liberation Serif','Times New Roman',serif" font-size="24" font-weight="bold" fill="#000" text-anchor="middle" >40</text>
<text x="1736.65" y="469.7" font-family="'Liberation Serif','Times New Roman',serif" font-size="24" font-weight="bold" fill="#000" text-anchor="middle" >50</text>
<text x="1831.93" y="469.7" font-family="'Liberation Serif','Times New Roman',serif" font-size="24" font-weight="bold" fill="#000" text-anchor="middle" >60</text>
<text x="1927.2" y="469.7" font-family="'Liberation Serif','Times New Roman',serif" font-size="24" font-weight="bold" fill="#000" text-anchor="middle" >70</text>
<text x="1712.5" y="499.8" font-family="'Liberation Serif','Times New Roman',serif" font-size="27.5" font-weight="bold" fill="#000" text-anchor="middle" textLength="241" lengthAdjust="spacingAndGlyphs" >Tafel slope (mV/dec)</text>
<text x="1388" y="242.9" font-family="'Liberation Serif','Times New Roman',serif" font-size="28" font-weight="bold" fill="#000" text-anchor="middle" textLength="403" lengthAdjust="spacingAndGlyphs" transform="rotate(-90 1388 242.9)" >Overpotential at 10 mA/cm<tspan font-size="15.5" dy="-11">2</tspan><tspan dy="11"> (mV)</tspan></text>
<text x="1461.5" y="86.7" font-family="'Liberation Serif','Times New Roman',serif" font-size="28" font-weight="normal" fill="#000" text-anchor="start" textLength="119" lengthAdjust="spacingAndGlyphs" >NiFe alloy</text>
<text x="1779" y="89.1" font-family="'Liberation Serif','Times New Roman',serif" font-size="28" font-weight="normal" fill="#000" text-anchor="start" textLength="121" lengthAdjust="spacingAndGlyphs" >NiFe-LDH</text>
<text x="1599" y="149.6" font-family="'Liberation Serif','Times New Roman',serif" font-size="28" font-weight="normal" fill="#000" text-anchor="start" textLength="94" lengthAdjust="spacingAndGlyphs" >Ni-Fe-O</text>
<text x="1634.5" y="215.2" font-family="'Liberation Serif','Times New Roman',serif" font-size="28" font-weight="normal" fill="#000" text-anchor="start" textLength="222.5" lengthAdjust="spacingAndGlyphs" >NiFe LDH@NiCoP</text>
<text x="1461.5" y="244.1" font-family="'Liberation Serif','Times New Roman',serif" font-size="28" font-weight="normal" fill="#000" text-anchor="start" textLength="228" lengthAdjust="spacingAndGlyphs" >NiFe LDH/(NiFe)S<tspan font-size="15.5" dy="10">x</tspan></text>
<text x="1765" y="261.1" font-family="'Liberation Serif','Times New Roman',serif" font-size="28" font-weight="normal" fill="#000" text-anchor="start" textLength="208.5" lengthAdjust="spacingAndGlyphs" >NiFe-LDH@NiCu</text>
<text x="1610" y="274.4" font-family="'Liberation Serif','Times New Roman',serif" font-size="28" font-weight="normal" fill="#000" text-anchor="start" textLength="98" lengthAdjust="spacingAndGlyphs" >Au/NiFe</text>
<text x="1660" y="319.6" font-family="'Liberation Serif','Times New Roman',serif" font-size="28" font-weight="normal" fill="#000" text-anchor="start" textLength="119.5" lengthAdjust="spacingAndGlyphs" >NiFe LDH</text>
<text x="1534.5" y="328.8" font-family="'Liberation Serif','Times New Roman',serif" font-size="28" font-weight="normal" fill="#000" text-anchor="start" textLength="56" lengthAdjust="spacingAndGlyphs" >NiFe</text>
<text x="1589" y="368.9" font-family="'Liberation Serif','Times New Roman',serif" font-size="28" font-weight="normal" fill="#000" text-anchor="start" textLength="87.5" lengthAdjust="spacingAndGlyphs" >NiFeCu</text>
<text x="1870" y="353.6" font-family="'Liberation Serif','Times New Roman',serif" font-size="28" font-weight="normal" fill="#000" text-anchor="start" textLength="75" lengthAdjust="spacingAndGlyphs" >NiFeO</text>
<text x="1531" y="406.3" font-family="'Liberation Serif','Times New Roman',serif" font-size="28" font-weight="normal" fill="#000" text-anchor="start" textLength="114" lengthAdjust="spacingAndGlyphs" >This work</text>
<text x="26" y="565" font-family="'Liberation Sans',Arial,sans-serif" font-size="64" font-weight="normal" fill="#000" text-anchor="start" >d</text>
<rect x="270.2" y="740.2" width="342" height="90.3" fill="#fbfbfb"/>
<line x1="279.9" y1="776.1" x2="306.1" y2="776.1" stroke="#000" stroke-width="3.2" stroke-linecap="butt"/>
<rect x="306.1" y="765.6" width="89.3" height="28.9" fill="#F9EC60" stroke="#000" stroke-width="2.8"/>
<line x1="395.4" y1="776.1" x2="424.25" y2="776.1" stroke="#000" stroke-width="3.2" stroke-linecap="butt"/>
<polyline points="452.25,756 424.25,756 424.25,796.25 482,796.25" fill="none" stroke="#000" stroke-width="3.2" stroke-linejoin="miter"/>
<polyline points="504.75,796.25 565.1,796.25 565.1,756 540.6,756" fill="none" stroke="#000" stroke-width="3.2" stroke-linejoin="miter"/>
<rect x="452.25" y="745.5" width="88.35" height="27.1" fill="#64F0FF" stroke="#000" stroke-width="2.8"/>
<line x1="565.1" y1="776.1" x2="598.4" y2="776.1" stroke="#000" stroke-width="3.2" stroke-linecap="butt"/>
<polyline points="469.75,782.25 485.5,795.4 472.4,809.4" fill="none" stroke="#000" stroke-width="3.2"/>
<polyline points="489,783.1 503.9,795.4 491.6,809.4" fill="none" stroke="#000" stroke-width="3.2"/>
<text x="484.6" y="826" font-family="'Liberation Serif','Times New Roman',serif" font-size="18.5" font-weight="bold" fill="#000" text-anchor="middle" textLength="41.5" lengthAdjust="spacingAndGlyphs" >CPE</text>
<text x="343.2" y="785.75" font-family="'Liberation Serif','Times New Roman',serif" font-size="20" font-weight="bold" fill="#000" text-anchor="start" >R<tspan font-size="13" dy="4.4">s</tspan></text>
<text x="485.8" y="763" font-family="'Liberation Serif','Times New Roman',serif" font-size="20" font-weight="bold" fill="#000" text-anchor="start" >R<tspan font-size="13" dy="4.4">ct</tspan></text>
<g clip-path="url(#cd)">
<polyline points="113,956 115,954.3 120.8,950.9 127,946 134,940.5 142,935.5 155.8,931.3 168.5,924.4 186.3,917.5 207,915.8 231.7,915.2 253.6,920.4 274.9,926.7 288.1,934.2 296.7,939.9 304.8,945.7" fill="none" stroke="#FA8A61" stroke-width="4.3" stroke-linejoin="round" stroke-linecap="round" />
<circle cx="113" cy="956" r="6.3" fill="url(#g0)"/>
<circle cx="115" cy="954.3" r="6.3" fill="url(#g0)"/>
<circle cx="120.8" cy="950.9" r="6.3" fill="url(#g0)"/>
<circle cx="127" cy="946" r="6.3" fill="url(#g0)"/>
<circle cx="134" cy="940.5" r="6.3" fill="url(#g0)"/>
<circle cx="142" cy="935.5" r="6.3" fill="url(#g0)"/>
<circle cx="155.8" cy="931.3" r="6.3" fill="url(#g0)"/>
<circle cx="168.5" cy="924.4" r="6.3" fill="url(#g0)"/>
<circle cx="186.3" cy="917.5" r="6.3" fill="url(#g0)"/>
<circle cx="207" cy="915.8" r="6.3" fill="url(#g0)"/>
<circle cx="231.7" cy="915.2" r="6.3" fill="url(#g0)"/>
<circle cx="253.6" cy="920.4" r="6.3" fill="url(#g0)"/>
<circle cx="274.9" cy="926.7" r="6.3" fill="url(#g0)"/>
<circle cx="288.1" cy="934.2" r="6.3" fill="url(#g0)"/>
<circle cx="296.7" cy="939.9" r="6.3" fill="url(#g0)"/>
<circle cx="304.8" cy="945.7" r="6.3" fill="url(#g0)"/>
<polyline points="116,955 118.5,954.3 121.9,952 126.5,948.6 131.1,944 134.6,939.4 138,934.8 142,927.9 150.1,917.5 156.4,905.4 165.6,884.7 195.2,814.8 217.7,760.2 257,684.7 321.8,583.7" fill="none" stroke="#8B9FCC" stroke-width="4.3" stroke-linejoin="round" stroke-linecap="round" />
<circle cx="116" cy="955" r="6.3" fill="url(#g3)"/>
<circle cx="118.5" cy="954.3" r="6.3" fill="url(#g3)"/>
<circle cx="121.9" cy="952" r="6.3" fill="url(#g3)"/>
<circle cx="126.5" cy="948.6" r="6.3" fill="url(#g3)"/>
<circle cx="131.1" cy="944" r="6.3" fill="url(#g3)"/>
<circle cx="134.6" cy="939.4" r="6.3" fill="url(#g3)"/>
<circle cx="138" cy="934.8" r="6.3" fill="url(#g3)"/>
<circle cx="142" cy="927.9" r="6.3" fill="url(#g3)"/>
<circle cx="150.1" cy="917.5" r="6.3" fill="url(#g3)"/>
<circle cx="156.4" cy="905.4" r="6.3" fill="url(#g3)"/>
<circle cx="165.6" cy="884.7" r="6.3" fill="url(#g3)"/>
<circle cx="195.2" cy="814.8" r="6.3" fill="url(#g3)"/>
<circle cx="217.7" cy="760.2" r="6.3" fill="url(#g3)"/>
<circle cx="257" cy="684.7" r="6.3" fill="url(#g3)"/>
<circle cx="321.8" cy="583.7" r="6.3" fill="url(#g3)"/>
<polyline points="121,955 122.5,953.7 125.4,952 130,948.6 134.6,944 139.2,939.4 144.3,934.8 151.2,926.7 163.3,918.1 178.3,907.7 200.7,894.5 231.7,883.6 273.7,879 315.1,880.7 357.7,888.8 385.7,901.5 405.5,917.2" fill="none" stroke="#62C2A2" stroke-width="4.3" stroke-linejoin="round" stroke-linecap="round" />
<circle cx="121" cy="955" r="6.3" fill="url(#g1)"/>
<circle cx="122.5" cy="953.7" r="6.3" fill="url(#g1)"/>
<circle cx="125.4" cy="952" r="6.3" fill="url(#g1)"/>
<circle cx="130" cy="948.6" r="6.3" fill="url(#g1)"/>
<circle cx="134.6" cy="944" r="6.3" fill="url(#g1)"/>
<circle cx="139.2" cy="939.4" r="6.3" fill="url(#g1)"/>
<circle cx="144.3" cy="934.8" r="6.3" fill="url(#g1)"/>
<circle cx="151.2" cy="926.7" r="6.3" fill="url(#g1)"/>
<circle cx="163.3" cy="918.1" r="6.3" fill="url(#g1)"/>
<circle cx="178.3" cy="907.7" r="6.3" fill="url(#g1)"/>
<circle cx="200.7" cy="894.5" r="6.3" fill="url(#g1)"/>
<circle cx="231.7" cy="883.6" r="6.3" fill="url(#g1)"/>
<circle cx="273.7" cy="879" r="6.3" fill="url(#g1)"/>
<circle cx="315.1" cy="880.7" r="6.3" fill="url(#g1)"/>
<circle cx="357.7" cy="888.8" r="6.3" fill="url(#g1)"/>
<circle cx="385.7" cy="901.5" r="6.3" fill="url(#g1)"/>
<circle cx="405.5" cy="917.2" r="6.3" fill="url(#g1)"/>
</g>
<rect x="92" y="570.5" width="522" height="384.8" fill="none" stroke="#000" stroke-width="1.8"/>
<line x1="84" y1="860.5" x2="92" y2="860.5" stroke="#000" stroke-width="1.8" stroke-linecap="butt"/>
<line x1="84" y1="762.4" x2="92" y2="762.4" stroke="#000" stroke-width="1.8" stroke-linecap="butt"/>
<line x1="84" y1="664.3" x2="92" y2="664.3" stroke="#000" stroke-width="1.8" stroke-linecap="butt"/>
<line x1="88" y1="909.55" x2="92" y2="909.55" stroke="#000" stroke-width="1.8" stroke-linecap="butt"/>
<line x1="88" y1="811.45" x2="92" y2="811.45" stroke="#000" stroke-width="1.8" stroke-linecap="butt"/>
<line x1="88" y1="713.35" x2="92" y2="713.35" stroke="#000" stroke-width="1.8" stroke-linecap="butt"/>
<line x1="88" y1="615.25" x2="92" y2="615.25" stroke="#000" stroke-width="1.8" stroke-linecap="butt"/>
<line x1="166.9" y1="955.3" x2="166.9" y2="963.3" stroke="#000" stroke-width="1.8" stroke-linecap="butt"/>
<line x1="317.75" y1="955.3" x2="317.75" y2="963.3" stroke="#000" stroke-width="1.8" stroke-linecap="butt"/>
<line x1="468.6" y1="955.3" x2="468.6" y2="963.3" stroke="#000" stroke-width="1.8" stroke-linecap="butt"/>
<line x1="91.47" y1="955.3" x2="91.47" y2="959.3" stroke="#000" stroke-width="1.8" stroke-linecap="butt"/>
<line x1="242.33" y1="955.3" x2="242.33" y2="959.3" stroke="#000" stroke-width="1.8" stroke-linecap="butt"/>
<line x1="393.18" y1="955.3" x2="393.18" y2="959.3" stroke="#000" stroke-width="1.8" stroke-linecap="butt"/>
<line x1="544.02" y1="955.3" x2="544.02" y2="959.3" stroke="#000" stroke-width="1.8" stroke-linecap="butt"/>
<text x="78.3" y="868.06" font-family="'Liberation Serif','Times New Roman',serif" font-size="24" font-weight="bold" fill="#000" text-anchor="end" >3</text>
<text x="78.3" y="769.96" font-family="'Liberation Serif','Times New Roman',serif" font-size="24" font-weight="bold" fill="#000" text-anchor="end" >6</text>
<text x="78.3" y="671.86" font-family="'Liberation Serif','Times New Roman',serif" font-size="24" font-weight="bold" fill="#000" text-anchor="end" >9</text>
<text x="166.9" y="986" font-family="'Liberation Serif','Times New Roman',serif" font-size="24" font-weight="bold" fill="#000" text-anchor="middle" >3</text>
<text x="317.75" y="986" font-family="'Liberation Serif','Times New Roman',serif" font-size="24" font-weight="bold" fill="#000" text-anchor="middle" >6</text>
<text x="468.6" y="986" font-family="'Liberation Serif','Times New Roman',serif" font-size="24" font-weight="bold" fill="#000" text-anchor="middle" >9</text>
<text x="359.6" y="1012.6" font-family="'Liberation Serif','Times New Roman',serif" font-size="26.5" font-weight="bold" fill="#000" text-anchor="middle" textLength="75" lengthAdjust="spacingAndGlyphs" >Z' (Ω)</text>
<text x="51.5" y="742.3" font-family="'Liberation Serif','Times New Roman',serif" font-size="26.5" font-weight="bold" fill="#000" text-anchor="middle" textLength="85" lengthAdjust="spacingAndGlyphs" transform="rotate(-90 51.5 742.3)" >-Z'' (Ω)</text>
<text x="332.3" y="630.1" font-family="'Liberation Serif','Times New Roman',serif" font-size="27.5" font-weight="bold" fill="#000" text-anchor="start" textLength="59" lengthAdjust="spacingAndGlyphs" >NiFe</text>
<text x="405.6" y="890.5" font-family="'Liberation Serif','Times New Roman',serif" font-size="27.5" font-weight="bold" fill="#000" text-anchor="start" >IrO<tspan font-size="15.5" dy="10">2</tspan></text>
<text x="332.3" y="947.5" font-family="'Liberation Serif','Times New Roman',serif" font-size="27.5" font-weight="bold" fill="#000" text-anchor="start" textLength="149.5" lengthAdjust="spacingAndGlyphs" >NiFe-Boride</text>
<text x="684" y="560.5" font-family="'Liberation Sans',Arial,sans-serif" font-size="64" font-weight="normal" fill="#000" text-anchor="start" >e</text>
<g clip-path="url(#ce)">
<polyline points="758,752.97 759,753.05 760,753.32 761,753.01 762,753.05 763,753.12 764,752.85 765,753.09 766,753.19 767,753.31 768,752.83 769,752.99 770,752.86 771,753.37 772,753.3 773,752.86 774,753.53 775,753.53 776,753.32 777,753.31 778,753 779,752.91 780,753.28 781,752.97 782,753.07 783,753.12 784,752.98 785,753.3 786,753.29 787,753.58 788,753.37 789,753.47 790,753.38 791,753.51 792,753.37 793,753.26 794,753.78 795,753.79 796,753.69 797,753.61 798,753.35 799,753.3 800,753.35 801,753.19 802,753.67 803,753.41 804,753.71 805,753.39 806,753.78 807,753.69 808,753.09 809,753.23 810,753.72 811,753.4 812,753.75 813,753.34 814,753.1 815,753.49 816,753.58 817,753.22 818,753.09 819,753.25 820,753.68 821,753.53 822,753.08 823,753.16 824,753.05 825,753.02 826,753.53 827,753.09 828,753.35 829,753.26 830,753.07 831,753.45 832,753.02 833,753.37 834,752.99 835,753.2 836,753.05 837,753.08 838,753.56 839,753.44 840,753.08 841,753.48 842,753 843,753.12 844,753.44 845,753.28 846,752.9 847,753.51 848,752.96 849,752.99 850,753.34 851,753.02 852,752.99 853,752.83 854,752.84 855,753.17 856,752.93 857,753.17 858,753 859,753.05 860,753.4 861,753.06 862,753.12 863,753.32 864,752.83 865,752.8 866,753.32 867,753.25 868,752.85 869,752.8 870,753.18 871,753.31 872,752.78 873,753.3 874,753.25 875,753.05 876,752.91 877,752.68 878,752.63 879,753.27 880,752.76 881,753.08 882,752.76 883,753.15 884,752.98 885,752.76 886,752.67 887,753.05 888,752.58 889,752.69 890,752.91 891,753.11 892,752.94 893,752.7 894,753.13 895,752.63 896,752.49 897,752.66 898,752.78 899,752.5 900,752.57 901,752.71 902,752.85 903,752.55 904,752.71 905,753.08 906,753.15 907,752.92 908,752.95 909,752.88 910,752.57 911,752.5 912,752.49 913,753.11 914,752.97 915,753.15 916,752.5 917,752.93 918,752.82 919,753 920,752.71 921,753.19 922,752.55 923,752.88 924,753.01 925,753.13 926,753.02 927,753 928,753.06 929,753.15 930,752.76 931,752.99 932,753.14 933,753.13 934,752.81 935,753.07 936,753.13 937,752.92 938,752.96 939,752.8 940,752.94 941,752.96 942,752.59 943,752.98 944,753.23 945,753.16 946,753.05 947,752.82 948,753.06 949,752.95 950,752.86 951,753.14 952,752.61 953,753.08 954,752.58 955,752.98 956,752.9 957,752.73 958,753.05 959,752.92 960,753 961,753.22 962,752.75 963,752.58 964,752.79 965,753.05 966,752.72 967,752.7 968,753.22 969,753.05 970,752.9 971,753.22 972,752.82 973,753.06 974,752.74 975,752.9 976,753.17 977,753.24 978,753.22 979,752.88 980,753.02 981,752.83 982,752.71 983,752.96 984,753.2 985,753.21 986,753.12 987,753.29 988,752.82 989,752.75 990,752.95 991,752.82 992,752.78 993,752.93 994,753.08 995,752.99 996,752.86 997,753.23 998,753.33 999,752.96 1000,752.7 1001,752.67 1002,753.25 1003,752.66 1004,753.12 1005,753.01 1006,752.82 1007,753.16 1008,752.61 1009,752.68 1010,752.9 1011,752.59 1012,753.15 1013,752.73 1014,752.65 1015,752.58 1016,752.98 1017,752.84 1018,752.96 1019,752.98 1020,753.08 1021,753.17 1022,752.98 1023,752.63 1024,752.81 1025,752.6 1026,752.48 1027,752.79 1028,752.95 1029,752.57 1030,752.63 1031,752.68 1032,752.91 1033,752.78 1034,752.84 1035,752.93 1036,752.67 1037,752.95 1038,753.02 1039,752.44 1040,753.02 1041,752.87 1042,752.45 1043,752.67 1044,752.78 1045,752.97 1046,752.59 1047,752.72 1048,752.93 1049,752.86 1050,752.96 1051,752.62 1052,752.74 1053,752.42 1054,752.78 1055,752.84 1056,752.71 1057,752.75 1058,752.39 1059,752.87 1060,752.92 1061,752.91 1062,752.59 1063,752.76 1064,752.43 1065,752.83 1066,752.79 1067,752.42 1068,752.23 1069,752.48 1070,752.55 1071,752.69 1072,752.49 1073,752.16 1074,752.7 1075,752.17 1076,752.68 1077,752.23 1078,752.34 1079,752.65 1080,752.19 1081,752.19 1082,752.44 1083,752.58 1084,752.65 1085,752.54 1086,752.71 1087,752.39 1088,752.7 1089,752.09 1090,752.17 1091,752.38 1092,752.21 1093,752.51 1094,752.44 1095,752.35 1096,752.57 1097,752.36 1098,752.18 1099,752.22 1100,752.54 1101,752.58 1102,752.09 1103,752.54 1104,752.62 1105,752.3 1106,752.33 1107,752.07 1108,752.3 1109,752.28 1110,752.34 1111,751.94 1112,752.59 1113,752.27 1114,752.19 1115,752.47 1116,752.3 1117,752.24 1118,752.38 1119,751.94 1120,752.27 1121,752.18 1122,752.55 1123,752.53 1124,752.07 1125,752.21 1126,751.96 1127,752.17 1128,752.44 1129,752.49 1130,752.19 1131,752.08 1132,751.99 1133,752.28 1134,752.5 1135,751.94 1136,752.39 1137,751.85 1138,751.97 1139,751.99 1140,752.31 1141,752.05 1142,752.07 1143,752.25 1144,751.89 1145,752.33 1146,751.9 1147,752.17 1148,751.98 1149,751.94 1150,752.17 1151,752.1 1152,752.06 1153,752.08 1154,752.16 1155,751.9 1156,751.92 1157,752.22 1158,752.22 1159,752.14 1160,752.37 1161,752.2 1162,752.36 1163,751.92 1164,752.28 1165,752.32 1166,752.38 1167,751.97 1168,751.97 1169,752.39 1170,751.89 1171,752.44 1172,752.36 1173,751.82 1174,751.9 1175,752.23 1176,751.9 1177,751.79 1178,752.3 1179,752.01 1180,752.26 1181,751.8 1182,751.99 1183,752.18 1184,751.71 1185,751.84 1186,752.17 1187,752.33 1188,752.36 1189,751.76 1190,752.03 1191,752.21 1192,752.03 1193,752.15 1194,751.8 1195,751.71 1196,751.74 1197,751.69 1198,752.04 1199,752.01 1200,752.05 1201,751.75 1202,751.77 1203,751.78 1204,752.22 1205,752.32 1206,752.27 1207,751.68 1208,751.65 1209,752.27 1210,751.92 1211,752.13 1212,751.82 1213,751.91 1214,751.94 1215,751.87 1216,751.99 1217,751.57 1218,752.05 1219,752.14 1220,751.67 1221,751.86 1222,752.05 1223,751.82 1224,751.66 1225,751.64 1226,751.88 1227,751.52 1228,752.13 1229,752.06 1230,751.99 1231,752.09 1232,751.93 1233,751.76 1234,751.9 1235,751.82 1236,752.15 1237,752.02 1238,751.64 1239,752.09 1240,751.97 1241,751.98 1242,752 1243,751.71 1244,752.05 1245,752.04 1246,751.9 1247,751.95 1248,751.94 1249,751.68 1250,751.9 1251,751.44 1252,751.62 1253,751.71 1254,751.38 1255,751.62 1256,751.81 1257,751.79 1258,751.52 1259,752.01 1260,751.81 1261,751.57 1262,751.79 1263,751.73 1264,751.69 1265,751.59 1266,752.01 1267,751.76 1268,751.79 1269,751.83 1270,751.98 1271,751.3 1272,751.71 1273,751.79 1274,751.45 1275,751.55 1276,751.3 1277,751.39 1278,751.6" fill="none" stroke="#FA8A61" stroke-width="3.6" stroke-linejoin="round" stroke-linecap="round" />
<polyline points="758,748.81 759,748.2 760,747.9 761,747.94 762,747.28 763,746.83 764,746.74 765,746.05 766,746.2 767,745.8 768,745.77 769,745.1 770,745.32 771,745.28 772,744.63 773,745.1 774,744.41 775,744.48 776,744.23 777,744.42 778,744.46 779,744.03 780,744.61 781,744.2 782,744.24 783,744.25 784,744.05 785,743.95 786,744.17 787,744.06 788,743.83 789,744.09 790,743.76 791,743.52 792,743.64 793,743.46 794,743.5 795,743.88 796,743.58 797,743.9 798,743.75 799,743.23 800,743.84 801,743.8 802,743.18 803,743.75 804,743.41 805,743.43 806,743.77 807,743.25 808,743.44 809,743.72 810,743.56 811,743.37 812,743.72 813,743.59 814,743.43 815,743.08 816,743.43 817,743.3 818,743.11 819,743 820,743.32 821,743.03 822,743.24 823,743.39 824,743.23 825,743.08 826,743.3 827,743.17 828,743.41 829,743.23 830,743.55 831,743.51 832,743.34 833,742.99 834,742.89 835,743.42 836,743.34 837,743.22 838,743.02 839,742.95 840,743.23 841,743.14 842,743.14 843,743.16 844,743.24 845,742.83 846,742.86 847,743.37 848,743.31 849,743.28 850,742.68 851,742.66 852,742.77 853,742.85 854,742.95 855,742.56 856,742.83 857,742.47 858,742.44 859,742.82 860,742.7 861,742.73 862,742.51 863,742.55 864,742.33 865,742.39 866,742.64 867,742.67 868,742.1 869,742.1 870,742.55 871,742.39 872,742.45 873,742.03 874,742.15 875,742 876,742.35 877,742.01 878,742.17 879,742.38 880,741.88 881,742.01 882,742.12 883,742.22 884,741.85 885,741.78 886,741.57 887,742.09 888,741.5 889,741.48 890,741.79 891,741.71 892,741.83 893,741.53 894,741.84 895,741.33 896,741.4 897,741.69 898,741.26 899,741.39 900,741.66 901,753.64 902,748.35 903,746.75 904,745.4 905,745.41 906,744.91 907,744.48 908,744.65 909,744.3 910,744.29 911,744.11 912,743.89 913,743.36 914,743.41 915,742.86 916,742.67 917,742.53 918,742.7 919,742.48 920,741.82 921,741.88 922,741.85 923,741.82 924,741.81 925,741.78 926,741.62 927,741.85 928,741.98 929,741.78 930,741.96 931,741.74 932,741.44 933,741.82 934,741.87 935,741.43 936,741.22 937,741.53 938,741.53 939,741.52 940,741.77 941,741.52 942,741.6 943,741.05 944,741.36 945,741.5 946,740.99 947,740.97 948,741.41 949,741.5 950,740.91 951,741.27 952,740.91 953,741.31 954,741.22 955,740.92 956,740.88 957,741.25 958,741.06 959,741.21 960,740.93 961,740.87 962,741.3 963,741.08 964,740.95 965,740.96 966,741.08 967,741.06 968,741.19 969,740.82 970,741.1 971,740.98 972,741.1 973,741.05 974,741.06 975,741.08 976,741.12 977,740.89 978,740.79 979,740.91 980,740.96 981,740.68 982,740.67 983,740.46 984,740.87 985,741.03 986,740.59 987,740.43 988,740.44 989,740.58 990,740.48 991,740.94 992,740.29 993,740.45 994,740.31 995,740.67 996,740.74 997,740.31 998,740.22 999,740.48 1000,740.56 1001,740.77 1002,740.14 1003,740.18 1004,740.21 1005,740.22 1006,740.21 1007,740.54 1008,740.43 1009,740.16 1010,740.11 1011,740.16 1012,740.07 1013,740.46 1014,740.13 1015,740.28 1016,740.46 1017,740.2 1018,740.03 1019,740.45 1020,740.46 1021,740.04 1022,740.17 1023,740.44 1024,740.09 1025,739.89 1026,739.75 1027,740.36 1028,740.24 1029,739.94 1030,740.02 1031,739.99 1032,739.81 1033,740.29 1034,740.04 1035,739.73 1036,739.56 1037,739.86 1038,739.78 1039,740.06 1040,739.98 1041,739.89 1042,739.56 1043,739.54 1044,739.64 1045,739.58 1046,739.99 1047,739.73 1048,739.8 1049,740.03 1050,739.5 1051,739.67 1052,739.39 1053,739.81 1054,739.25 1055,739.81 1056,739.81 1057,739.78 1058,739.24 1059,739.36 1060,739.65 1061,739.2 1062,739.45 1063,739.43 1064,739.75 1065,739.48 1066,739.65 1067,739.25 1068,739.57 1069,739.29 1070,739.63 1071,739.03 1072,739.53 1073,739.08 1074,739.3 1075,739.27 1076,738.99 1077,739.45 1078,739.07 1079,739.05 1080,738.87 1081,739.01 1082,739.11 1083,739.27 1084,739 1085,739.21 1086,738.79 1087,738.98 1088,739.01 1089,739.34 1090,739.23 1091,739.09 1092,738.63 1093,738.86 1094,739.08 1095,738.73 1096,738.94 1097,738.85 1098,738.52 1099,739.19 1100,739.04 1101,738.61 1102,738.88 1103,738.64 1104,738.68 1105,738.78 1106,738.59 1107,738.6 1108,738.62 1109,738.8 1110,738.5 1111,738.44 1112,738.8 1113,738.5 1114,738.91 1115,738.63 1116,738.72 1117,738.43 1118,738.76 1119,738.23 1120,738.25 1121,738.19 1122,738.57 1123,738.57 1124,738.18 1125,738.31 1126,738.59 1127,738.39 1128,738.01 1129,738.08 1130,738.01 1131,737.96 1132,738.13 1133,737.88 1134,738.44 1135,738.07 1136,738.11 1137,738.18 1138,738.24 1139,738.25 1140,737.92 1141,737.86 1142,737.89 1143,737.59 1144,737.83 1145,738.01 1146,738.19 1147,738.03 1148,737.91 1149,737.85 1150,737.41 1151,737.61 1152,737.59 1153,737.78 1154,737.37 1155,737.54 1156,737.61 1157,737.78 1158,737.78 1159,737.6 1160,737.26 1161,737.66 1162,737.73 1163,737.46 1164,737.3 1165,737.38 1166,737.1 1167,737.47 1168,737.64 1169,737.29 1170,737.4 1171,737.46 1172,736.99 1173,737.49 1174,737.24 1175,736.91 1176,736.81 1177,736.9 1178,737.1 1179,737.16 1180,736.88 1181,737.23 1182.01,736.77 1183.01,736.77 1184.01,736.47 1185.02,736.99 1186.02,736.34 1187.02,736.81 1188.03,736.49 1189.03,736.43 1190.03,736.36 1191.04,736.09 1192.04,736.47 1193.04,736.46 1194.05,736.27 1195.05,736.05 1196.05,735.65 1197.06,736.07 1198.06,735.63 1199.06,735.99 1200.07,735.46 1201.07,735.63 1202.07,735.74 1203.08,735.22 1204.08,735.41 1205.08,735.01 1206.09,734.91 1207.09,734.95 1208.09,735.44 1209.1,735.34 1210.1,735.08 1211.11,734.76 1212.11,734.95 1213.11,734.93 1214.12,734.61 1215.12,734.69 1216.12,734.77 1217.13,734.15 1218.13,734.21 1219.13,734.33 1220.14,734.04 1221.14,734.14 1222.14,734.2 1223.15,733.86 1224.15,734.03 1225.15,733.78 1226.16,733.93 1227.16,733.7 1228.16,733.84 1229.17,733.35 1230.17,733.73 1231.17,733.29 1232.18,733.8 1233.18,733.48 1234.18,733.32 1235.19,733.21 1236.19,733.29 1237.19,733.27 1238.2,733.25 1239.2,733" fill="none" stroke="#62C2A2" stroke-width="3.9" stroke-linejoin="round" stroke-linecap="round" />
<polyline points="758,715.98 759.11,716.13 760.23,716.83 761.34,717.07 762.46,717.42 763.57,717.45 764.69,717.81 765.8,718.25 766.93,719.33 768.07,719.92 769.2,720.77 770.33,721.55 771.47,722.73 772.6,723.17 773.63,723.16 774.66,723.8 775.69,724.09 776.72,724.14 777.75,724.22 778.78,724.5 779.81,724.35 780.84,724.73 781.87,724.53 782.9,724.74 783.92,725.02 784.95,725.12 785.97,725.1 786.99,724.91 788.02,725.42 789.04,725.36 790.06,725.21 791.09,725.32 792.11,725.44 793.13,725.38 794.16,725.32 795.18,725.97 796.2,726.06 797.23,725.91 798.25,726.11 799.27,725.85 800.3,726.18 801.32,725.83 802.34,726.25 803.37,726.18 804.39,726.47 805.41,725.97 806.44,726.51 807.46,726.1 808.48,726.44 809.51,726.79 810.53,726.18 811.55,726.41 812.58,726.5 813.6,726.58 814.61,726.39 815.62,726.98 816.63,726.92 817.64,726.63 818.65,726.6 819.65,726.76 820.66,726.38 821.67,726.37 822.68,726.98 823.69,726.57 824.7,726.7 825.71,727 826.72,727.03 827.73,726.68 828.74,726.49 829.75,726.56 830.75,727 831.76,726.98 832.77,726.49 833.78,726.94 834.79,726.6 835.8,726.68 836.86,725.75 837.92,725.52 838.99,724.87 840.05,723.59 841.11,723.17 842.17,722.13 843.24,721.89 844.3,720.59 845.32,720.49 846.34,720.8 847.36,720.38 848.38,720.66 849.4,720.51 850.42,720.27 851.44,719.73 852.46,720 853.48,720.04 854.5,719.56 855.58,719.47 856.65,719.73 857.73,719.95 858.8,720.4 859.88,720.2 860.95,720.35 862.02,720.55 863.1,721.02 864.16,720.85 865.23,720.31 866.29,720.26 867.35,720.17 868.41,719.71 869.48,719.21 870.54,719.01 871.6,719.2 872.62,719.05 873.65,718.81 874.68,719.1 875.7,718.75 876.73,719.41 877.75,719.07 878.77,719.16 879.8,719.2 880.83,718.9 881.85,719.32 882.88,719.13 883.9,719.15 884.93,719.57 885.95,719.1 886.98,719.27 888,719.64 889.02,719.32 890.05,719.38 891.08,719.6 892.1,719.38 893.23,720.44 894.37,721.07 895.5,720.97 896.63,721.84 897.77,722.61 898.9,722.92 899.91,723.42 900.91,723.24 901.92,723.13 902.92,723.51 903.93,723.69 904.94,723.61 905.94,723.93 906.95,724.14 907.95,724.07 908.96,724.18 909.96,724.54 910.97,724.54 911.98,724.54 912.98,724.96 913.99,724.54 914.99,725.08 916,724.77 917.01,725.1 918.02,724.87 919.03,725.04 920.04,725.29 921.06,725.33 922.07,725.36 923.08,725 924.09,725.2 925.1,725.04 926.11,725.32 927.12,725.28 928.13,724.99 929.14,725.4 930.16,725.51 931.17,725.44 932.18,725.68 933.19,725.22 934.2,725.22 935.21,725.16 936.22,725.52 937.23,725.5 938.24,725.53 939.26,725.43 940.27,725.83 941.28,725.35 942.29,725.96 943.3,725.75 944.36,725.04 945.42,724.53 946.49,723.45 947.55,722.7 948.61,722.13 949.67,721.25 950.74,720.76 951.8,720.28 952.9,719.62 954,718.84 955,724.06 956.01,723.7 957.01,724.19 958.02,723.72 959.03,723.77 960.03,723.69 961.04,724.04 962.05,724.13 963.05,724.08 964.06,723.56 965.07,723.79 966.07,723.74 967.08,723.62 968.08,724.13 969.09,723.47 970.1,723.76 971.1,723.94 972.11,724.08 973.12,723.48 974.12,723.68 975.13,723.87 976.14,723.36 977.14,723.48 978.15,723.92 979.16,723.38 980.16,723.54 981.17,723.46 982.18,723.54 983.18,723.28 984.19,723.23 985.2,723.89 986.2,723.71 987.21,723.68 988.22,723.31 989.22,723.31 990.23,723.5 991.23,723.27 992.24,723.41 993.25,723.72 994.25,723.31 995.26,723.28 996.27,723.71 997.27,723.44 998.28,723.02 999.29,723.26 1000.29,723.42 1001.3,722.99 1002.32,723.19 1003.34,723.44 1004.36,723.56 1005.38,723.36 1006.4,723.57 1007.42,723.27 1008.44,723.23 1009.46,723.54 1010.48,723.22 1011.5,723.5 1012.65,723.78 1013.8,724.56 1014.95,725.13 1016.1,726.07 1017.25,726.48 1018.4,727.19 1019.4,727.26 1020.4,727.5 1021.4,727.44 1022.4,727.6 1023.4,728.04 1024.4,727.88 1025.4,728.07 1026.4,727.66 1027.4,727.85 1028.4,727.69 1029.4,728.18 1030.4,728.01 1031.4,728.01 1032.4,727.89 1033.4,728.06 1034.4,728.17 1035.4,728.33 1036.41,728.74 1037.41,728.63 1038.42,728.36 1039.42,728.47 1040.43,728.36 1041.44,728.95 1042.44,728.59 1043.45,728.92 1044.45,728.93 1045.46,729.1 1046.46,728.52 1047.47,728.77 1048.48,728.85 1049.48,728.68 1050.49,729.29 1051.49,728.94 1052.5,729.29 1053.51,729.15 1054.51,728.87 1055.52,729.15 1056.52,729.08 1057.53,728.98 1058.54,729.1 1059.54,729.46 1060.55,729.1 1061.55,729.34 1062.56,729.46 1063.56,729.58 1064.57,729.34 1065.58,729.78 1066.58,729.51 1067.59,729.88 1068.59,729.88 1069.6,729.55 1070.62,729.35 1071.64,729.17 1072.66,729.23 1073.68,728.77 1074.7,728.52 1075.72,728.62 1076.74,727.93 1077.76,727.73 1078.78,727.53 1079.8,727.2 1080.84,727.05 1081.88,727.01 1082.92,727.4 1083.96,727.32 1085,727.46 1086.03,727.55 1087.07,727.05 1088.11,727.28 1089.15,727.42 1090.19,726.9 1091.23,727.2 1092.27,727.15 1093.31,727.32 1094.35,727.23 1095.39,726.76 1096.43,727.01 1097.47,726.6 1098.5,726.8 1099.54,726.75 1100.58,726.48 1101.62,726.68 1102.66,726.61 1103.7,726.7 1104.7,726.53 1105.71,726.43 1106.71,726.59 1107.72,726.62 1108.72,726.39 1109.73,726.73 1110.73,726.41 1111.74,726.3 1112.74,726.46 1113.74,726.5 1114.75,726.29 1115.75,726.58 1116.76,726.65 1117.76,726.53 1118.77,726.62 1119.77,726.13 1120.78,726.37 1121.78,726.34 1122.78,726.11 1123.79,726.34 1124.79,726.08 1125.8,726.37 1126.8,726.42 1127.81,726.33 1128.81,726.21 1129.81,726.15 1130.82,725.97 1131.82,726.18 1132.83,726.55 1133.83,726.3 1134.84,726.08 1135.84,726.35 1136.85,725.99 1137.85,726.18 1138.85,726.27 1139.86,726.49 1140.86,726.06 1141.87,726.19 1142.87,726.44 1143.88,726.3 1144.88,726.19 1145.89,726.17 1146.89,726.01 1147.89,725.99 1148.9,725.88 1149.9,726.25 1150.91,726.27 1151.91,725.91 1152.92,726.27 1153.92,725.64 1154.92,725.7 1155.93,725.94 1156.93,725.79 1157.94,725.81 1158.94,726.23 1159.95,725.63 1160.95,725.65 1161.96,725.66 1162.96,725.96 1163.96,725.63 1164.97,725.45 1165.97,725.82 1166.98,725.7 1167.98,725.58 1168.99,725.74 1169.99,725.83 1171,725.75 1172,725.79 1173,725.75 1174.01,725.94 1175.01,726.05 1176.02,725.61 1177.02,725.63 1178.02,726.01 1179.03,725.62 1180.03,725.9 1181.03,725.9 1182.04,725.9 1183.04,726.1 1184.05,726.01 1185.05,725.55 1186.05,725.88 1187.06,725.79 1188.06,725.85 1189.06,725.72 1190.07,725.67 1191.07,726 1192.08,725.86 1193.08,725.65 1194.08,725.67 1195.09,725.73 1196.09,725.63 1197.09,725.87 1198.1,725.61 1199.1,725.57 1200.11,725.58 1201.11,725.61 1202.11,726.04 1203.12,725.63 1204.12,725.88 1205.12,726.11 1206.13,725.91 1207.13,725.69 1208.14,726.19 1209.14,726.2 1210.14,725.64 1211.15,725.79 1212.15,725.97 1213.15,726.18 1214.16,725.9 1215.16,726.14 1216.17,725.82 1217.17,726.15 1218.17,725.88 1219.18,725.89 1220.18,726.2 1221.18,726.26 1222.19,726.26 1223.19,726.08 1224.2,725.99 1225.2,726.19 1226.2,726.14 1227.21,726.29 1228.21,726.28 1229.22,725.81 1230.22,726 1231.22,726.21 1232.23,725.91 1233.23,725.88 1234.23,725.77 1235.24,726.18 1236.24,726.43 1237.25,726.46 1238.25,725.88 1239.25,726.27 1240.26,726.09 1241.26,726.25 1242.26,726.09 1243.27,726.47 1244.27,726.52 1245.28,725.87 1246.28,726.34 1247.28,725.93 1248.29,725.88 1249.29,726.06 1250.29,726.38 1251.3,726.57 1252.3,725.96 1253.31,726.12 1254.31,725.91 1255.31,726.28 1256.32,726.24 1257.32,726.17 1258.32,726.13 1259.33,726.48 1260.33,726.52 1261.34,726.14 1262.34,726.22 1263.34,726.38 1264.35,726.49 1265.35,726.65 1266.35,726.24 1267.36,726.46 1268.36,726.37 1269.37,726.55 1270.37,726.1 1271.37,726.13 1272.38,726.09 1273.38,726.67 1274.38,726.2 1275.39,726.37 1276.39,726.12 1277.4,726.27 1278.4,726.4" fill="none" stroke="#8B9FCC" stroke-width="3.8" stroke-linejoin="round" stroke-linecap="round" />
</g>
<rect x="758" y="567.7" width="520.4" height="385.3" fill="none" stroke="#000" stroke-width="1.8"/>
<line x1="750" y1="953" x2="758" y2="953" stroke="#000" stroke-width="1.8" stroke-linecap="butt"/>
<line x1="750" y1="856.68" x2="758" y2="856.68" stroke="#000" stroke-width="1.8" stroke-linecap="butt"/>
<line x1="750" y1="760.35" x2="758" y2="760.35" stroke="#000" stroke-width="1.8" stroke-linecap="butt"/>
<line x1="750" y1="664.03" x2="758" y2="664.03" stroke="#000" stroke-width="1.8" stroke-linecap="butt"/>
<line x1="750" y1="567.7" x2="758" y2="567.7" stroke="#000" stroke-width="1.8" stroke-linecap="butt"/>
<line x1="754" y1="904.84" x2="758" y2="904.84" stroke="#000" stroke-width="1.8" stroke-linecap="butt"/>
<line x1="754" y1="808.51" x2="758" y2="808.51" stroke="#000" stroke-width="1.8" stroke-linecap="butt"/>
<line x1="754" y1="712.19" x2="758" y2="712.19" stroke="#000" stroke-width="1.8" stroke-linecap="butt"/>
<line x1="754" y1="615.86" x2="758" y2="615.86" stroke="#000" stroke-width="1.8" stroke-linecap="butt"/>
<line x1="857.6" y1="953" x2="857.6" y2="961" stroke="#000" stroke-width="1.8" stroke-linecap="butt"/>
<line x1="962.8" y1="953" x2="962.8" y2="961" stroke="#000" stroke-width="1.8" stroke-linecap="butt"/>
<line x1="1068" y1="953" x2="1068" y2="961" stroke="#000" stroke-width="1.8" stroke-linecap="butt"/>
<line x1="1173.2" y1="953" x2="1173.2" y2="961" stroke="#000" stroke-width="1.8" stroke-linecap="butt"/>
<line x1="1278.4" y1="953" x2="1278.4" y2="961" stroke="#000" stroke-width="1.8" stroke-linecap="butt"/>
<line x1="805" y1="953" x2="805" y2="957" stroke="#000" stroke-width="1.8" stroke-linecap="butt"/>
<line x1="910.2" y1="953" x2="910.2" y2="957" stroke="#000" stroke-width="1.8" stroke-linecap="butt"/>
<line x1="1015.4" y1="953" x2="1015.4" y2="957" stroke="#000" stroke-width="1.8" stroke-linecap="butt"/>
<line x1="1120.6" y1="953" x2="1120.6" y2="957" stroke="#000" stroke-width="1.8" stroke-linecap="butt"/>
<line x1="1225.8" y1="953" x2="1225.8" y2="957" stroke="#000" stroke-width="1.8" stroke-linecap="butt"/>
<text x="744" y="960.56" font-family="'Liberation Serif','Times New Roman',serif" font-size="24" font-weight="bold" fill="#000" text-anchor="end" >1.0</text>
<text x="744" y="864.24" font-family="'Liberation Serif','Times New Roman',serif" font-size="24" font-weight="bold" fill="#000" text-anchor="end" >1.2</text>
<text x="744" y="767.91" font-family="'Liberation Serif','Times New Roman',serif" font-size="24" font-weight="bold" fill="#000" text-anchor="end" >1.4</text>
<text x="744" y="671.59" font-family="'Liberation Serif','Times New Roman',serif" font-size="24" font-weight="bold" fill="#000" text-anchor="end" >1.6</text>
<text x="744" y="575.26" font-family="'Liberation Serif','Times New Roman',serif" font-size="24" font-weight="bold" fill="#000" text-anchor="end" >1.8</text>
<text x="857.6" y="985.7" font-family="'Liberation Serif','Times New Roman',serif" font-size="24" font-weight="bold" fill="#000" text-anchor="middle" >20</text>
<text x="962.8" y="985.7" font-family="'Liberation Serif','Times New Roman',serif" font-size="24" font-weight="bold" fill="#000" text-anchor="middle" >40</text>
<text x="1068" y="985.7" font-family="'Liberation Serif','Times New Roman',serif" font-size="24" font-weight="bold" fill="#000" text-anchor="middle" >60</text>
<text x="1173.2" y="985.7" font-family="'Liberation Serif','Times New Roman',serif" font-size="24" font-weight="bold" fill="#000" text-anchor="middle" >80</text>
<text x="1278.4" y="985.7" font-family="'Liberation Serif','Times New Roman',serif" font-size="24" font-weight="bold" fill="#000" text-anchor="middle" >100</text>
<text x="1018.2" y="1017" font-family="'Liberation Serif','Times New Roman',serif" font-size="27.5" font-weight="bold" fill="#000" text-anchor="middle" textLength="100" lengthAdjust="spacingAndGlyphs" >Time (h)</text>
<text x="699.6" y="747" font-family="'Liberation Serif','Times New Roman',serif" font-size="28" font-weight="bold" fill="#000" text-anchor="middle" textLength="260" lengthAdjust="spacingAndGlyphs" transform="rotate(-90 699.6 747)" >Potential (V vs. RHE)</text>
<text x="786.5" y="602.8" font-family="'Liberation Serif','Times New Roman',serif" font-size="26.5" font-weight="bold" fill="#000" text-anchor="start" textLength="261" lengthAdjust="spacingAndGlyphs" >Stability at 20 mA/cm<tspan font-size="16" dy="-10">2</tspan></text>
<line x1="1085" y1="590.5" x2="1127.8" y2="590.5" stroke="#FA8A61" stroke-width="3.2" stroke-linecap="butt"/>
<text x="1132.2" y="597" font-family="'Liberation Serif','Times New Roman',serif" font-size="27.5" font-weight="bold" fill="#000" text-anchor="start" textLength="145" lengthAdjust="spacingAndGlyphs" >NiFe-Boride</text>
<line x1="1085" y1="624.7" x2="1127.8" y2="624.7" stroke="#62C2A2" stroke-width="3.2" stroke-linecap="butt"/>
<text x="1132.2" y="631.2" font-family="'Liberation Serif','Times New Roman',serif" font-size="27.5" font-weight="bold" fill="#000" text-anchor="start" >IrO<tspan font-size="15.5" dy="10">2</tspan></text>
<line x1="1085" y1="668" x2="1127.8" y2="668" stroke="#8B9FCC" stroke-width="3.2" stroke-linecap="butt"/>
<text x="1132.2" y="675.5" font-family="'Liberation Serif','Times New Roman',serif" font-size="27.5" font-weight="bold" fill="#000" text-anchor="start" >NiFe</text>
<text x="1358.8" y="576" font-family="'Liberation Sans',Arial,sans-serif" font-size="64" font-weight="normal" fill="#000" text-anchor="start" textLength="22.4" lengthAdjust="spacingAndGlyphs" >f</text>
<circle cx="1540.75" cy="842.8" r="6.9" fill="url(#g4)"/>
<circle cx="1513.3" cy="911.8" r="6.9" fill="url(#g4)"/>
<circle cx="1540.5" cy="904" r="6.9" fill="url(#g4)"/>
<circle cx="1540.5" cy="911.8" r="6.9" fill="url(#g4)"/>
<circle cx="1540.5" cy="932.2" r="6.9" fill="url(#g4)"/>
<circle cx="1626" cy="925.75" r="6.9" fill="url(#g4)"/>
<polygon points="1849.4,570 1853.28,581.96 1865.85,581.95 1855.68,589.34 1859.57,601.3 1849.4,593.9 1839.23,601.3 1843.12,589.34 1832.95,581.95 1845.52,581.96" fill="#ff0000"/>
<polygon points="1624,756.4 1627.88,768.46 1640.55,768.42 1630.28,775.84 1634.23,787.88 1624,780.4 1613.77,787.88 1617.72,775.84 1607.45,768.42 1620.12,768.46" fill="#ff0000"/>
<rect x="1455.7" y="568.5" width="519.3" height="386.8" fill="none" stroke="#000" stroke-width="1.8"/>
<line x1="1447.7" y1="946.4" x2="1455.7" y2="946.4" stroke="#000" stroke-width="1.8" stroke-linecap="butt"/>
<line x1="1447.7" y1="894.6" x2="1455.7" y2="894.6" stroke="#000" stroke-width="1.8" stroke-linecap="butt"/>
<line x1="1447.7" y1="842.6" x2="1455.7" y2="842.6" stroke="#000" stroke-width="1.8" stroke-linecap="butt"/>
<line x1="1447.7" y1="790.8" x2="1455.7" y2="790.8" stroke="#000" stroke-width="1.8" stroke-linecap="butt"/>
<line x1="1447.7" y1="742.4" x2="1455.7" y2="742.4" stroke="#000" stroke-width="1.8" stroke-linecap="butt"/>
<line x1="1447.7" y1="662.9" x2="1455.7" y2="662.9" stroke="#000" stroke-width="1.8" stroke-linecap="butt"/>
<line x1="1447.7" y1="584.3" x2="1455.7" y2="584.3" stroke="#000" stroke-width="1.8" stroke-linecap="butt"/>
<line x1="1451.7" y1="920.5" x2="1455.7" y2="920.5" stroke="#000" stroke-width="1.8" stroke-linecap="butt"/>
<line x1="1451.7" y1="868.5" x2="1455.7" y2="868.5" stroke="#000" stroke-width="1.8" stroke-linecap="butt"/>
<line x1="1451.7" y1="816.8" x2="1455.7" y2="816.8" stroke="#000" stroke-width="1.8" stroke-linecap="butt"/>
<line x1="1451.7" y1="702.6" x2="1455.7" y2="702.6" stroke="#000" stroke-width="1.8" stroke-linecap="butt"/>
<line x1="1451.7" y1="623.6" x2="1455.7" y2="623.6" stroke="#000" stroke-width="1.8" stroke-linecap="butt"/>
<text x="1442" y="953.6" font-family="'Liberation Serif','Times New Roman',serif" font-size="24" font-weight="bold" fill="#000" text-anchor="end" >0</text>
<text x="1442" y="901.8" font-family="'Liberation Serif','Times New Roman',serif" font-size="24" font-weight="bold" fill="#000" text-anchor="end" >30</text>
<text x="1442" y="849.8" font-family="'Liberation Serif','Times New Roman',serif" font-size="24" font-weight="bold" fill="#000" text-anchor="end" >60</text>
<text x="1442" y="798" font-family="'Liberation Serif','Times New Roman',serif" font-size="24" font-weight="bold" fill="#000" text-anchor="end" >90</text>
<text x="1442" y="749.6" font-family="'Liberation Serif','Times New Roman',serif" font-size="24" font-weight="bold" fill="#000" text-anchor="end" >200</text>
<text x="1442" y="670.1" font-family="'Liberation Serif','Times New Roman',serif" font-size="24" font-weight="bold" fill="#000" text-anchor="end" >300</text>
<text x="1442" y="591.5" font-family="'Liberation Serif','Times New Roman',serif" font-size="24" font-weight="bold" fill="#000" text-anchor="end" >400</text>
<line x1="1455.7" y1="955.3" x2="1455.7" y2="963.3" stroke="#000" stroke-width="1.8" stroke-linecap="butt"/>
<line x1="1540.5" y1="955.3" x2="1540.5" y2="963.3" stroke="#000" stroke-width="1.8" stroke-linecap="butt"/>
<line x1="1626" y1="955.3" x2="1626" y2="963.3" stroke="#000" stroke-width="1.8" stroke-linecap="butt"/>
<line x1="1719.2" y1="955.3" x2="1719.2" y2="963.3" stroke="#000" stroke-width="1.8" stroke-linecap="butt"/>
<line x1="1847.5" y1="955.3" x2="1847.5" y2="963.3" stroke="#000" stroke-width="1.8" stroke-linecap="butt"/>
<line x1="1975" y1="955.3" x2="1975" y2="963.3" stroke="#000" stroke-width="1.8" stroke-linecap="butt"/>
<line x1="1498" y1="955.3" x2="1498" y2="959.3" stroke="#000" stroke-width="1.8" stroke-linecap="butt"/>
<line x1="1583.3" y1="955.3" x2="1583.3" y2="959.3" stroke="#000" stroke-width="1.8" stroke-linecap="butt"/>
<line x1="1669" y1="955.3" x2="1669" y2="959.3" stroke="#000" stroke-width="1.8" stroke-linecap="butt"/>
<line x1="1783.3" y1="955.3" x2="1783.3" y2="959.3" stroke="#000" stroke-width="1.8" stroke-linecap="butt"/>
<line x1="1911.2" y1="955.3" x2="1911.2" y2="959.3" stroke="#000" stroke-width="1.8" stroke-linecap="butt"/>
<text x="1455.7" y="986.6" font-family="'Liberation Serif','Times New Roman',serif" font-size="24" font-weight="bold" fill="#000" text-anchor="middle" >0</text>
<text x="1540.5" y="986.6" font-family="'Liberation Serif','Times New Roman',serif" font-size="24" font-weight="bold" fill="#000" text-anchor="middle" >10</text>
<text x="1626" y="986.6" font-family="'Liberation Serif','Times New Roman',serif" font-size="24" font-weight="bold" fill="#000" text-anchor="middle" >20</text>
<text x="1719.2" y="986.6" font-family="'Liberation Serif','Times New Roman',serif" font-size="24" font-weight="bold" fill="#000" text-anchor="middle" >900</text>
<text x="1847.5" y="986.6" font-family="'Liberation Serif','Times New Roman',serif" font-size="24" font-weight="bold" fill="#000" text-anchor="middle" >1000</text>
<text x="1975" y="986.6" font-family="'Liberation Serif','Times New Roman',serif" font-size="24" font-weight="bold" fill="#000" text-anchor="middle" >1100</text>
<rect x="1444" y="754" width="22" height="13" fill="#fff"/>
<line x1="1446" y1="757.5" x2="1464" y2="751.5" stroke="#000" stroke-width="1.8" stroke-linecap="butt"/>
<line x1="1446" y1="764.5" x2="1464" y2="758.5" stroke="#000" stroke-width="1.8" stroke-linecap="butt"/>
<rect x="1707" y="950" width="16" height="12" fill="#fff"/>
<line x1="1709" y1="962" x2="1716" y2="947.5" stroke="#000" stroke-width="1.8" stroke-linecap="butt"/>
<line x1="1716" y1="962" x2="1723" y2="947.5" stroke="#000" stroke-width="1.8" stroke-linecap="butt"/>
<text x="1749.7" y="1020.2" font-family="'Liberation Serif','Times New Roman',serif" font-size="27.5" font-weight="bold" fill="#000" text-anchor="middle" textLength="318" lengthAdjust="spacingAndGlyphs" >Current density (mA/cm<tspan font-size="15.5" dy="-11">2</tspan><tspan dy="11">)</tspan></text>
<text x="1393.4" y="759.5" font-family="'Liberation Serif','Times New Roman',serif" font-size="28" font-weight="bold" fill="#000" text-anchor="middle" textLength="176" lengthAdjust="spacingAndGlyphs" transform="rotate(-90 1393.4 759.5)" >Stability (hour)</text>
<text x="1797.5" y="633.6" font-family="'Liberation Serif','Times New Roman',serif" font-size="28.5" font-weight="normal" fill="#000" text-anchor="start" textLength="114" lengthAdjust="spacingAndGlyphs" >This work</text>
<text x="1574" y="752" font-family="'Liberation Serif','Times New Roman',serif" font-size="28.5" font-weight="normal" fill="#000" text-anchor="start" textLength="114" lengthAdjust="spacingAndGlyphs" >This work</text>
<text x="1517" y="824.5" font-family="'Liberation Serif','Times New Roman',serif" font-size="28.5" font-weight="normal" fill="#000" text-anchor="start" textLength="54" lengthAdjust="spacingAndGlyphs" >Ni<tspan font-size="18" dy="7">x</tspan><tspan dy="-7">B</tspan></text>
<text x="1458.5" y="860.5" font-family="'Liberation Serif','Times New Roman',serif" font-size="28.5" font-weight="normal" fill="#000" text-anchor="start" textLength="63.5" lengthAdjust="spacingAndGlyphs" >NiFe-</text>
<text x="1458.5" y="893.5" font-family="'Liberation Serif','Times New Roman',serif" font-size="28.5" font-weight="normal" fill="#000" text-anchor="start" textLength="73.5" lengthAdjust="spacingAndGlyphs" >Borate</text>
<text x="1597.2" y="865.75" font-family="'Liberation Serif','Times New Roman',serif" font-size="28.5" font-weight="normal" fill="#000" text-anchor="start" textLength="141" lengthAdjust="spacingAndGlyphs" >Co–Ni–B–O</text>
<text x="1612.2" y="898.75" font-family="'Liberation Serif','Times New Roman',serif" font-size="28.5" font-weight="normal" fill="#000" text-anchor="start" textLength="107" lengthAdjust="spacingAndGlyphs" >Ni<tspan font-size="18" dy="7">x</tspan><tspan dy="-7">Fe</tspan><tspan font-size="18" dy="7">1-x</tspan><tspan dy="-7">B</tspan></text>
<text x="1640" y="936.25" font-family="'Liberation Serif','Times New Roman',serif" font-size="28.5" font-weight="normal" fill="#000" text-anchor="start" textLength="92.5" lengthAdjust="spacingAndGlyphs" >Fe-Ni-B</text>
<text x="1468.2" y="952.75" font-family="'Liberation Serif','Times New Roman',serif" font-size="28.5" font-weight="normal" fill="#000" text-anchor="start" textLength="135" lengthAdjust="spacingAndGlyphs" >Ni-Bi@NiB</text>
<line x1="1594" y1="861.7" x2="1557.45" y2="892.16" stroke="#000" stroke-width="3" stroke-linecap="butt"/>
<polygon points="1549,899.2 1554.76,888.93 1560.14,895.38" fill="#000"/>
<line x1="1604.5" y1="882.25" x2="1558.71" y2="906.63" stroke="#000" stroke-width="3" stroke-linecap="butt"/>
<polygon points="1549,911.8 1556.74,902.92 1560.68,910.34" fill="#000"/>
<text x="28.5" y="1091" font-family="'Liberation Sans',Arial,sans-serif" font-size="64" font-weight="normal" fill="#000" text-anchor="start" textLength="36.5" lengthAdjust="spacingAndGlyphs" >g</text>
<polyline points="128,1244.24 129,1244.46 130,1244.4 131,1244.57 132,1244.63 133,1244.33 134,1244.33 135,1244.86 136,1244.56 137,1244.58 138,1245.07 139,1244.79 140,1245.05 141,1244.87 142,1245.01 143,1244.75 144,1245.08 145,1245.26 146,1245.09 147,1245.26 148,1245.25 149,1244.93 150,1245.38 151,1245.32 152,1245.18 153,1245.06 154,1245.59 155,1245.4 156,1245.58 157,1245.71 158,1245.65 159,1245.82 160,1245.54 161,1245.98 162,1245.97 163,1246.46 164,1246.63 165,1245.98 166,1245.83 167,1245.71 168,1245.98 169,1245.49 170,1245.43 171,1245.06 172,1245 173,1244.93 174,1244.91 175,1245.05 176,1241.05 177,1243.24 178,1243.11 179,1243.26 180,1243.21 181,1243.29 182,1243.1 183,1242.8 184,1243.22 185,1243.28 186,1243.24 187,1243.04 188,1243.13 189,1242.83 190,1243.2 191,1243.11 192,1243 193,1242.94 194,1243.48 195,1243.63 196,1243.15 197,1243.65 198,1243.48 199,1243.39 200,1243.54 201,1243.89 202,1244.02 203,1243.59 204,1244 205,1243.73 206,1244.2 207,1244.03 208,1244.43 209,1244.56 210,1244.34 211,1244.7 212,1244.35 213,1244.28 214,1244.66 215,1244.39 216,1244.55 217,1244.74 218,1244.93 219,1244.73 220,1244.73 221,1245.25 222,1244.95 223,1245.37 224,1245.37 225,1245.09 226,1245.17 227,1245.24 228,1245.34 229,1245.35 230,1245.36 231,1245.42 232,1245.65 233,1245.42 234,1245.41 235,1245.61 236,1245.35 237,1245.42 238,1245.86 239,1245.62 240,1245.67 241,1245.38 242,1245.65 243,1245.78 244,1245.48 245,1245.87 246,1245.91 247,1245.6 248,1245.97 249,1245.91 250,1246.07 251,1245.9 252,1246.15 253,1246.2 254,1245.8 255,1245.86 256,1246.26 257,1246.46 258,1246.07 259,1246.22 260,1246.34 261,1246.2 262,1246.26 263,1246.26 264,1246.33 265,1246.5 266,1246.35 267,1246.43 268,1246.7 269,1246.28 270,1246.64 271,1246.84 272,1246.69 273,1246.73 274,1247.18 275,1246.94 276,1247.01 277,1247.26 278,1247.52 279,1247.26 280,1247.49 281,1247.54 282,1247.87 283,1247.67 284,1247.95 285,1247.58 286,1247.71 287,1247.94 288,1248.11 289,1247.89 290,1247.79 291,1247.76 292,1248.04 293,1247.87 294,1248.27 295,1248.33 296,1247.97 297,1248.06 298,1248.41 299,1248.35 300,1248.48 301,1248.24 302,1248.15 303,1248.28 304,1248.62 305,1248.34 306,1248.42 307,1248.5 308,1248.53 309,1248.56 310,1248.9 311,1248.48 312,1248.42 313,1249.02 314,1249.02 315,1249.12 316,1248.82 317,1249.17 318,1249.19 319,1248.8 320,1249.15 321,1249.24 322,1249.17 323,1249.12 324,1249.02 325,1249.08 326,1249.05 327,1248.99 328,1249.34 329,1249.19 330,1249.54 331,1249.12 332,1249.67 333,1249.58 334,1249.75 335,1249.77 336,1249.81 337,1249.65 338,1249.35 339,1249.83 340,1249.52 341,1249.63 342,1249.88 343,1249.84 344,1249.81 345,1250.16 346,1250 347,1249.87 348,1249.85 349,1250.22 350,1249.99 351,1243.77 352,1244.91 353,1244.82 354,1245.02 355,1245.32 356,1245.05 357,1245.55 358,1245.75 359,1245.81 360,1245.94 361,1245.58 362,1246.08 363,1246.72 364,1246.73 365,1247.36 366,1247.86 367,1248.52 368,1248.95 369,1249.02 370,1249.23 371,1248.8 372,1248.87 373,1248.94 374,1248.97 375,1248.97 376,1249.55 377,1249.51 378,1249.09 379,1249.37 380,1249.29 381,1249.32 382,1249.38 383,1249.59 384,1249.59 385,1249.48 386,1249.41 387,1249.53 388,1249.44 389,1249.73 390,1249.86 391,1249.69 392,1249.55 393,1249.64 394,1249.79 395,1249.96 396,1250.1 397,1249.89 398,1250.18 399,1251.57 400,1252.96 401,1252.92 402,1253 403,1253.12 404,1252.95 405,1253.12 406,1252.98 407,1252.85 408,1253.02 409,1251.82 410,1250.14 411,1250.39 412,1250.44 413,1250.75 414,1250.82 415,1250.52 416,1250.88 417,1250.85 418,1250.58 419,1250.74 420,1250.57 421,1251.03 422,1250.98 423,1251.15 424,1251.14 425,1251.1 426,1251.18 427,1251.12 428,1250.88 429,1251.21 430,1250.9 431,1251.03 432,1251.44 433,1251.05 434,1251.12 435,1251.16 436,1251.67 437,1251.29 438,1251.23 439,1251.76 440,1251.37 441,1252.31 442,1252.7 443,1253.3 444,1253.87 445,1253.45 446,1253.38 447,1252.72 448,1252.96 449,1252.61 450,1252.53 451,1246.76 452,1252.15 453,1252.26 454,1251.74 455,1251.89 456,1252.04 457,1252.2 458,1243.85 459,1250.81 460,1250.85 461,1251.07 462,1251.15 463,1250.94 464,1250.92 465,1250.94 466,1250.91 467,1250.95 468,1250.75 469,1251 470,1251.28 471,1250.95 472,1251.15 473,1250.8 474,1251.11 475,1251.15 476,1251.1 477,1251.01 478,1250.99 479,1251.09 480,1251.24 481,1250.79 482,1250.76 483,1251.15 484,1251.25 485,1251.01 486,1250.97 487,1251.13 488,1250.81 489,1250.86 490,1250.82 491,1250.3 492,1249.39 493,1248.59 494,1248.11 495,1248.67 496,1248.68 497,1249.32 498,1249.55 499,1250.21 500,1250.45 501,1249.96 502,1249.63 503,1249.21 504,1249.19 505,1248.83 506,1248.4 507,1248.22 508,1247.89 509.02,1248.21 510.05,1247.89 511.07,1248.44 512.09,1248.19 513.11,1248.31 514.14,1248.28 515.16,1248.55 516.18,1248.59 517.2,1248.48 518.23,1248.49 519.25,1248.68 520.27,1248.81 521.3,1248.59 522.32,1248.84 523.34,1249.03 524.36,1248.78 525.39,1248.69 526.41,1248.74 527.43,1249.08 528.45,1249.11 529.48,1249.33 530.5,1249.31 531.6,1248.83 532.7,1248.67 533.8,1248.6 534.9,1248.43 536,1248.62 537.2,1247.84 538.4,1246.99 539.6,1245.73 540.8,1245.22 541.82,1244.91 542.85,1244.99 543.87,1245.2 544.89,1244.83 545.92,1244.86 546.94,1245.32 547.96,1245.02 548.99,1245.07 550.01,1245.23 551.03,1245.31 552.06,1244.92 553.08,1245.14 554.1,1245.22 555.13,1245.27 556.15,1245.13 557.17,1245.37 558.2,1245.61 559.22,1245.29 560.24,1245.41 561.27,1245.17 562.29,1245.28 563.31,1245.54 564.34,1245.23 565.36,1245.71 566.38,1245.75 567.41,1245.28 568.43,1245.8 569.45,1245.48 570.48,1245.74 571.5,1245.75 572.5,1245.55 573.5,1245.86 574.5,1245.92 575.5,1246.09 576.5,1245.84 577.5,1246.21 578.5,1246.41 579.5,1246.31 580.5,1246.3 581.5,1246.12 582.5,1246.43 583.5,1246.42 584.5,1246.71 585.5,1246.77 586.5,1246.77 587.5,1246.62 588.5,1246.97 589.5,1247.04 590.5,1246.84 591.5,1247.35 592.5,1247.28 593.5,1247.04 594.5,1247.6 595.5,1247.2 596.5,1247.39 597.5,1247.7 598.5,1247.7 599.5,1247.75 600.5,1247.88 601.5,1247.84 602.5,1247.83 603.5,1247.83 604.5,1247.84 605.5,1248.3 606.5,1248.4 607.5,1248.35 608.5,1248.54 609.5,1248.39 610.5,1248.41 611.5,1248.55 612.5,1248.92 613.53,1248.23 614.56,1248.3 615.59,1247.95 616.62,1248.06 617.65,1247.61 618.68,1247.4 619.71,1247.24 620.74,1247.12 621.77,1247.06 622.8,1246.61 623.82,1246.87 624.85,1246.4 625.87,1246.46 626.89,1246.32 627.92,1246.3 628.94,1246.66 629.97,1246.6 630.99,1246.24 632.01,1246.21 633.04,1246.31 634.06,1246.47 635.08,1246.48 636.11,1246.4 637.13,1246.28 638.16,1245.97 639.18,1246.09 640.2,1245.93 641.23,1246.1 642.25,1246.09 643.27,1245.84 644.3,1245.83 645.32,1246.12 646.34,1245.63 647.37,1246.06 648.39,1246.08 649.42,1246.08 650.44,1245.71 651.46,1245.77 652.49,1245.76 653.51,1245.75 654.53,1245.93 655.56,1245.72 656.58,1245.45 657.61,1245.75 658.63,1245.49 659.65,1245.53 660.68,1245.57 661.7,1245.1 662.73,1246.21 663.75,1246.8 664.77,1247.35 665.8,1248.01 666.82,1247.93 667.85,1247.72 668.88,1247.88 669.9,1247.54 670.92,1247.77 671.95,1247.81 672.97,1247.64 674,1247.67 675.02,1247.86 676.05,1247.77 677.07,1247.27 678.1,1247.62 679.12,1247.47 680.15,1247.08 681.17,1247.22 682.2,1247.1 683.23,1246.96 684.25,1247.19 685.27,1247.38 686.3,1246.97 687.33,1247.25 688.35,1247.1 689.38,1246.71 690.4,1247.1 691.42,1246.9 692.45,1247.05 693.48,1246.88 694.5,1246.84 695.51,1246.59 696.52,1246.85 697.52,1246.9 698.53,1246.84 699.54,1246.57 700.55,1246.75 701.56,1246.56 702.57,1246.32 703.57,1246.26 704.58,1246.27 705.59,1246.32 706.6,1246.28 707.61,1246.46 708.61,1246.57 709.62,1246.45 710.63,1246.36 711.64,1246.48 712.65,1246.26 713.66,1246.34 714.66,1246.49 715.67,1246.26 716.68,1246.11 717.69,1246.52 718.7,1246.4 719.7,1246.17 720.71,1246.15 721.72,1246.23 722.73,1246.25 723.74,1246.01 724.75,1245.86 725.75,1245.97 726.76,1246.29 727.77,1245.89 728.78,1246.06 729.79,1245.89 730.8,1245.88 731.8,1245.84 732.81,1245.96 733.82,1245.8 734.83,1245.7 735.84,1245.73 736.84,1245.74 737.85,1245.92 738.86,1245.64 739.87,1245.6 740.88,1245.84 741.89,1245.8 742.89,1245.96 743.9,1245.55 744.91,1245.74 745.92,1245.72 746.93,1245.48 747.93,1246.02 748.94,1245.56 749.95,1245.46 750.96,1245.67 751.97,1245.47 752.98,1245.73 753.98,1245.54 754.99,1245.39 756,1245.33 757,1244.74 758,1243.47 759,1242.77 760,1244.38 761,1246.46 762,1247.88 763.04,1247.72 764.08,1247.6 765.12,1247.8 766.16,1247.56 767.2,1247.26 768.24,1246.98 769.28,1247.2 770.32,1247.24 771.36,1246.89 772.4,1246.4 773.42,1247.17 774.45,1247.95 775.48,1248.75 776.5,1249.42 777.52,1249.33 778.53,1249.59 779.55,1249.64 780.57,1249.12 781.58,1249.48 782.6,1249.09 783.62,1249.18 784.63,1249.15 785.65,1249.06 786.67,1248.42 787.68,1248.48 788.7,1248.56 789.72,1248.67 790.73,1248.05 791.75,1248.08 792.77,1248.31 793.78,1247.77 794.8,1247.83 795.82,1247.7 796.83,1247.81 797.85,1247.86 798.87,1247.3 799.88,1247.54 800.9,1247.44 801.92,1247.4 802.93,1247.13 803.95,1247.25 804.97,1246.82 805.98,1246.75 807,1246.54 808.01,1246.84 809.02,1246.64 810.03,1246.49 811.04,1246.4 812.05,1246.7 813.06,1246.61 814.07,1246.65 815.08,1246.43 816.09,1246.46 817.1,1246.24 818.11,1246.55 819.12,1246.11 820.13,1246.35 821.14,1246.5 822.15,1246.42 823.16,1246.05 824.17,1246.11 825.18,1246.45 826.19,1246.3 827.2,1246.42 828.21,1246.39 829.22,1246.11 830.23,1246.35 831.24,1246.23 832.25,1245.96 833.25,1245.96 834.26,1245.75 835.27,1245.93 836.28,1246.23 837.29,1245.7 838.3,1245.95 839.31,1245.65 840.32,1245.61 841.33,1245.92 842.34,1245.65 843.35,1245.51 844.36,1245.55 845.37,1245.82 846.38,1245.76 847.39,1245.39 848.4,1245.49 849.41,1245.91 850.42,1245.44 851.43,1245.62 852.44,1245.5 853.45,1245.7 854.46,1245.56 855.47,1245.65 856.48,1245.47 857.49,1245.24 858.5,1245.21 859.52,1245.56 860.55,1246.42 861.58,1246.41 862.6,1246.76 863.62,1247.74 864.65,1247.69 865.68,1248.52 866.7,1248.45 867.71,1248.64 868.71,1248.45 869.72,1248.77 870.73,1248.6 871.73,1248.57 872.74,1248.6 873.75,1248.62 874.75,1248.26 875.76,1248.37 876.77,1248.23 877.77,1247.99 878.78,1248.38 879.78,1248.19 880.79,1248.28 881.8,1247.87 882.8,1248.03 883.81,1247.94 884.82,1248.05 885.82,1247.62 886.83,1247.74 887.84,1247.78 888.84,1247.49 889.85,1247.73 890.86,1247.8 891.86,1247.57 892.87,1247.66 893.88,1247.59 894.88,1247.31 895.89,1247.35 896.9,1247.69 897.9,1247.25 898.91,1247.27 899.92,1247.02 900.92,1247.05 901.93,1246.98 902.93,1247.39 903.94,1247.23 904.95,1247.27 905.95,1247.3 906.96,1247.03 907.97,1247.18 908.97,1246.9 909.98,1246.78 910.99,1247.06 911.99,1246.99 913,1246.7" fill="none" stroke="#000" stroke-width="3" stroke-linejoin="round" stroke-linecap="round" />
<circle cx="133.5" cy="1149" r="6.5" fill="url(#g5)"/>
<circle cx="175" cy="1145" r="6.5" fill="url(#g5)"/>
<circle cx="222.5" cy="1146" r="6.5" fill="url(#g5)"/>
<circle cx="269.5" cy="1143.5" r="6.5" fill="url(#g5)"/>
<circle cx="316.5" cy="1144" r="6.5" fill="url(#g5)"/>
<circle cx="364" cy="1141.5" r="6.5" fill="url(#g5)"/>
<circle cx="422.5" cy="1142.5" r="6.5" fill="url(#g5)"/>
<circle cx="521" cy="1143.5" r="6.5" fill="url(#g5)"/>
<circle cx="717" cy="1145" r="6.5" fill="url(#g5)"/>
<circle cx="815.5" cy="1141.5" r="6.5" fill="url(#g5)"/>
<circle cx="894.5" cy="1143.5" r="6.5" fill="url(#g5)"/>
<rect x="127.6" y="1094.4" width="785.9" height="385.6" fill="none" stroke="#000" stroke-width="1.8"/>
<line x1="119.6" y1="1480" x2="127.6" y2="1480" stroke="#000" stroke-width="1.8" stroke-linecap="butt"/>
<line x1="119.6" y1="1383.6" x2="127.6" y2="1383.6" stroke="#000" stroke-width="1.8" stroke-linecap="butt"/>
<line x1="119.6" y1="1287.2" x2="127.6" y2="1287.2" stroke="#000" stroke-width="1.8" stroke-linecap="butt"/>
<line x1="119.6" y1="1190.8" x2="127.6" y2="1190.8" stroke="#000" stroke-width="1.8" stroke-linecap="butt"/>
<line x1="119.6" y1="1094.4" x2="127.6" y2="1094.4" stroke="#000" stroke-width="1.8" stroke-linecap="butt"/>
<line x1="123.6" y1="1431.8" x2="127.6" y2="1431.8" stroke="#000" stroke-width="1.8" stroke-linecap="butt"/>
<line x1="123.6" y1="1335.4" x2="127.6" y2="1335.4" stroke="#000" stroke-width="1.8" stroke-linecap="butt"/>
<line x1="123.6" y1="1239" x2="127.6" y2="1239" stroke="#000" stroke-width="1.8" stroke-linecap="butt"/>
<line x1="123.6" y1="1142.6" x2="127.6" y2="1142.6" stroke="#000" stroke-width="1.8" stroke-linecap="butt"/>
<line x1="127.6" y1="1480" x2="127.6" y2="1488" stroke="#000" stroke-width="1.8" stroke-linecap="butt"/>
<line x1="324.07" y1="1480" x2="324.07" y2="1488" stroke="#000" stroke-width="1.8" stroke-linecap="butt"/>
<line x1="520.55" y1="1480" x2="520.55" y2="1488" stroke="#000" stroke-width="1.8" stroke-linecap="butt"/>
<line x1="717.02" y1="1480" x2="717.02" y2="1488" stroke="#000" stroke-width="1.8" stroke-linecap="butt"/>
<line x1="913.5" y1="1480" x2="913.5" y2="1488" stroke="#000" stroke-width="1.8" stroke-linecap="butt"/>
<line x1="225.84" y1="1480" x2="225.84" y2="1484" stroke="#000" stroke-width="1.8" stroke-linecap="butt"/>
<line x1="422.31" y1="1480" x2="422.31" y2="1484" stroke="#000" stroke-width="1.8" stroke-linecap="butt"/>
<line x1="618.79" y1="1480" x2="618.79" y2="1484" stroke="#000" stroke-width="1.8" stroke-linecap="butt"/>
<line x1="815.26" y1="1480" x2="815.26" y2="1484" stroke="#000" stroke-width="1.8" stroke-linecap="butt"/>
<text x="113.4" y="1487.56" font-family="'Liberation Serif','Times New Roman',serif" font-size="24" font-weight="bold" fill="#000" text-anchor="end" >0.5</text>
<text x="113.4" y="1391.16" font-family="'Liberation Serif','Times New Roman',serif" font-size="24" font-weight="bold" fill="#000" text-anchor="end" >1.0</text>
<text x="113.4" y="1294.76" font-family="'Liberation Serif','Times New Roman',serif" font-size="24" font-weight="bold" fill="#000" text-anchor="end" >1.5</text>
<text x="113.4" y="1198.36" font-family="'Liberation Serif','Times New Roman',serif" font-size="24" font-weight="bold" fill="#000" text-anchor="end" >2.0</text>
<text x="113.4" y="1101.96" font-family="'Liberation Serif','Times New Roman',serif" font-size="24" font-weight="bold" fill="#000" text-anchor="end" >2.5</text>
<text x="127.6" y="1511.4" font-family="'Liberation Serif','Times New Roman',serif" font-size="24" font-weight="bold" fill="#000" text-anchor="middle" >0</text>
<text x="324.07" y="1511.4" font-family="'Liberation Serif','Times New Roman',serif" font-size="24" font-weight="bold" fill="#000" text-anchor="middle" >100</text>
<text x="520.55" y="1511.4" font-family="'Liberation Serif','Times New Roman',serif" font-size="24" font-weight="bold" fill="#000" text-anchor="middle" >200</text>
<text x="717.02" y="1511.4" font-family="'Liberation Serif','Times New Roman',serif" font-size="24" font-weight="bold" fill="#000" text-anchor="middle" >300</text>
<text x="913.5" y="1511.4" font-family="'Liberation Serif','Times New Roman',serif" font-size="24" font-weight="bold" fill="#000" text-anchor="middle" >400</text>
<line x1="905.5" y1="1479.5" x2="913.5" y2="1479.5" stroke="#000" stroke-width="1.8" stroke-linecap="butt"/>
<text x="922.5" y="1486.8" font-family="'Liberation Serif','Times New Roman',serif" font-size="24" font-weight="bold" fill="#FF8000" text-anchor="start" >60</text>
<line x1="905.5" y1="1393.9" x2="913.5" y2="1393.9" stroke="#000" stroke-width="1.8" stroke-linecap="butt"/>
<text x="922.5" y="1401.2" font-family="'Liberation Serif','Times New Roman',serif" font-size="24" font-weight="bold" fill="#FF8000" text-anchor="start" >70</text>
<line x1="905.5" y1="1308.3" x2="913.5" y2="1308.3" stroke="#000" stroke-width="1.8" stroke-linecap="butt"/>
<text x="922.5" y="1315.6" font-family="'Liberation Serif','Times New Roman',serif" font-size="24" font-weight="bold" fill="#FF8000" text-anchor="start" >80</text>
<line x1="905.5" y1="1222.7" x2="913.5" y2="1222.7" stroke="#000" stroke-width="1.8" stroke-linecap="butt"/>
<text x="922.5" y="1230" font-family="'Liberation Serif','Times New Roman',serif" font-size="24" font-weight="bold" fill="#FF8000" text-anchor="start" >90</text>
<line x1="905.5" y1="1137.1" x2="913.5" y2="1137.1" stroke="#000" stroke-width="1.8" stroke-linecap="butt"/>
<text x="922.5" y="1144.4" font-family="'Liberation Serif','Times New Roman',serif" font-size="24" font-weight="bold" fill="#FF8000" text-anchor="start" >100</text>
<line x1="909.5" y1="1436.7" x2="913.5" y2="1436.7" stroke="#000" stroke-width="1.8" stroke-linecap="butt"/>
<line x1="909.5" y1="1351.1" x2="913.5" y2="1351.1" stroke="#000" stroke-width="1.8" stroke-linecap="butt"/>
<line x1="909.5" y1="1265.5" x2="913.5" y2="1265.5" stroke="#000" stroke-width="1.8" stroke-linecap="butt"/>
<line x1="909.5" y1="1179.9" x2="913.5" y2="1179.9" stroke="#000" stroke-width="1.8" stroke-linecap="butt"/>
<text x="521.2" y="1544.3" font-family="'Liberation Serif','Times New Roman',serif" font-size="27.5" font-weight="bold" fill="#000" text-anchor="middle" textLength="141" lengthAdjust="spacingAndGlyphs" >Time (hour)</text>
<text x="64.1" y="1292.7" font-family="'Liberation Serif','Times New Roman',serif" font-size="28" font-weight="bold" fill="#000" text-anchor="middle" textLength="231" lengthAdjust="spacingAndGlyphs" transform="rotate(-90 64.1 1292.7)" >Potential (vs. RHE)</text>
<text x="989" y="1299.7" font-family="'Liberation Serif','Times New Roman',serif" font-size="28" font-weight="bold" fill="#FF8000" text-anchor="middle" textLength="125" lengthAdjust="spacingAndGlyphs" transform="rotate(-90 989 1299.7)" >O<tspan font-size="15.5" dy="10">2</tspan><tspan dy="-10"> FE (%)</tspan></text>
<text x="130.5" y="1120" font-family="'Liberation Serif','Times New Roman',serif" font-size="26" font-weight="bold" fill="#000" text-anchor="start" textLength="381" lengthAdjust="spacingAndGlyphs" >Water splitting in 1M KOH elctrolyte</text>
<text x="539.5" y="1224" font-family="'Liberation Serif','Times New Roman',serif" font-size="26" font-weight="bold" fill="#000" text-anchor="start" textLength="78" lengthAdjust="spacingAndGlyphs" >1 A/cm<tspan font-size="16" dy="-10">2</tspan></text>
<text x="998" y="1116" font-family="'Liberation Sans',Arial,sans-serif" font-size="64" font-weight="normal" fill="#000" text-anchor="start" >h</text>
<g clip-path="url(#ch)">
<polyline points="1116,1250.17 1117,1251.09 1118,1251.91 1119,1252.87 1120,1253.34 1121,1253.85 1122,1252.86 1123,1253.73 1124,1254.66 1125,1254.51 1126,1255.12 1127,1254.28 1128,1255.04 1129,1254.99 1130,1255.66 1131,1255.8 1132,1255.12 1133,1255.5 1134,1255.69 1135,1256.68 1136,1256.57 1137,1255.82 1138,1256.82 1139,1255.99 1140,1256.76 1141,1256.18 1142,1256.1 1143,1257.42 1144,1256.59 1145,1256.7 1146,1257.88 1147,1257.82 1148,1257.11 1149,1258.15 1150,1257.65 1151,1257.9 1152,1257.29 1153,1258.37 1154,1258.07 1155,1258.5 1156,1258.45 1157,1257.67 1158,1257.81 1159,1257.58 1160,1257.6 1161,1257.54 1162,1257.92 1163,1258.39 1164,1257.6 1165,1258.6 1166,1258.17 1167,1258.18 1168,1258.95 1169,1258.52 1170,1258.34 1171,1258.62 1172,1258.99 1173,1258.13 1174,1259.47 1175,1258.18 1176,1259.25 1177,1259.43 1178,1258.33 1179,1259.45 1180,1258.91 1181,1259.26 1182,1258.51 1183,1258.62 1184,1258.85 1185,1259.99 1186,1258.98 1187,1259.81 1188,1260.1 1189,1260.17 1190,1259.38 1191,1259.43 1192,1259.69 1193,1260.08 1194,1259.17 1195,1260.1 1196,1260.2 1197,1260.31 1198,1259.19 1199,1260.49 1200,1259.33 1201,1259.71 1202,1260.12 1203,1260.58 1204,1259.8 1205,1260.64 1206,1260.14 1207,1259.85 1208,1259.88 1209,1259.72 1210,1259.61 1211,1259.74 1212,1260.52 1213,1260.99 1214,1259.85 1215,1259.72 1216,1261.06 1217,1260.46 1218,1260.31 1219,1260.1 1220,1260.63 1221,1260.99 1222,1260.5 1223,1260.48 1224,1260 1225,1261.23 1226,1260.03 1227,1260.7 1228,1261.21 1229,1260.25 1230,1261.12 1231,1261.46 1232,1261.04 1233,1261.29 1234,1260.37 1235,1260.86 1236,1260.49 1237,1261.49 1238,1260.75 1239,1261 1240,1261.8 1241,1261.62 1242,1261.83 1243,1261.12 1244,1261.2 1245,1261.57 1246,1261.25 1247,1261.02 1248,1261.21 1249,1260.88 1250,1261.23 1251,1262.07 1252,1262.01 1253,1261.53 1254,1261.33 1255,1261.09 1256,1260.72 1257,1260.96 1258,1261.66 1259,1261.76 1260,1261.04 1261,1261.62 1262,1261.58 1263,1261.46 1264,1261.4 1265,1261.51 1266,1260.94 1267,1261.4 1268,1260.79 1269,1261.06 1270,1261.44 1271,1261.32 1272,1260.74 1273,1261.64 1274,1261.21 1275,1261.1 1276,1260.28 1277,1261.02 1278,1260.58 1279,1261.16 1280,1260.85 1281,1261.33 1282,1261.07 1283,1261.27 1284,1260.62 1285,1261.02 1286,1261.13 1287,1261.24 1288,1260.56 1289,1261.23 1290,1261.25 1291,1260.98 1292,1261.37 1293,1261.32 1294,1260.69 1295,1260.69 1296,1260.17 1297,1261.09 1298,1261.21 1299,1260.55 1300,1260.83 1301,1260.86 1302,1260.86 1303,1260.06 1304,1260.89 1305,1260.6 1306,1260.7 1307,1260.34 1308,1260.61 1309,1260.8 1310,1260.59 1311,1260.66 1312,1259.65 1313,1259.79 1314,1260.14 1315,1260.39 1316,1259.74 1317,1260.35 1318,1260.22 1319,1259.35 1320,1259.91 1321,1259.52 1322,1259.24 1323,1259.3 1324,1259.51 1325,1259.28 1326,1259.25 1327,1258.98 1328,1259.54 1329,1259.38 1330,1259.66 1331,1259.58 1332,1259.04 1333,1259.93 1334,1258.62 1335,1259.14 1336,1258.92 1337,1259.06 1338,1258.6 1339,1259.56 1340,1258.87 1341,1258.36 1342,1259.12 1343,1258.35 1344,1258.93 1345,1258.6 1346,1258.89 1347,1259.38 1348,1259.14 1349,1258.53 1350,1259.04 1351,1258.81 1352,1258.44 1353,1258.13 1354,1258.77 1355,1258.74 1356,1259.3 1357,1259.33 1358,1258.83 1359,1258.48 1360,1259.25 1361,1258.01 1362,1258.17 1363,1258.82 1364,1258.9 1365,1258.25 1366,1258.94 1367,1259.32 1368,1258.61 1369,1258.69 1370,1258.42 1371,1258.52 1372,1259.48 1373,1258.66 1374,1259.49 1375,1259.43 1376,1258.99 1377,1258.53 1378,1259.55 1379,1258.88 1380,1258.78 1381,1258.66 1382,1259.6 1383,1258.92 1384,1258.64 1385,1258.92 1386,1258.43 1387,1259.14 1388,1258.9 1389,1258.7 1390,1259.39 1391,1259.51 1392,1258.42 1393,1259.2 1394,1258.88 1395,1259.86 1396,1259.69 1397,1258.99 1398,1259.07 1399,1258.97 1400,1260.18 1401,1259.26 1402,1259.75 1403,1259.61 1404,1259.9 1405,1259.9 1406,1260.14 1407,1259.32 1408,1260.26 1409,1259.67 1410,1260.05 1411,1259.82 1412,1259.82 1413,1260.19 1414,1260.15 1415,1260.06 1416,1260.64 1417,1260.48 1418,1259.75 1419,1260.1 1420,1260.44 1421,1261.13 1422,1261.14 1423,1260.71 1424,1260.02 1425,1261.14 1426,1260.7 1427,1260.96 1428,1261.19 1429,1261.14 1430,1260.97 1431,1261.66 1432,1261.01 1433,1261.1 1434,1261.83 1435,1261 1436,1261.23 1437,1262.06 1438,1261.07 1439,1262.24 1440,1262.12 1441,1261.84 1442,1261.72 1443,1262.5 1444,1262.76 1445,1261.77 1446,1262.33 1447,1262.51 1448,1262.53 1449,1262.38 1450,1262.21 1451,1262.91 1452,1263.31 1453,1262.35 1454,1262.66 1455,1263.57 1456,1263.62 1457,1263.52 1458,1262.72 1459,1263.78 1460,1264.22 1461,1264.33 1462,1264 1463,1263.17 1464,1264.37 1465,1263.58 1466,1264.26 1467,1264.78 1468,1264.53 1469,1263.8 1470,1264.11 1471,1265.07 1472,1264.08 1473,1264.8 1474,1264.61 1475,1264.34 1476,1265.07 1477,1264.34 1478,1264.52 1479,1264.98 1480,1264.63 1481,1264.7 1482,1265.51 1483,1265.82 1484,1266.1 1485,1265.14 1486,1265.64 1487,1265.56 1488,1266.04 1489,1265.97 1490,1266.68 1491,1265.97 1492,1265.61 1493,1266.59 1494,1265.91 1495,1266.67 1496,1266.57 1497,1267.22 1498,1266.81 1499,1266.99 1500,1266.57 1501,1267 1502,1266.61 1503,1267.33 1504,1267.03 1505,1266.52 1506,1266.69 1507,1266.91 1508,1267.45 1509,1266.69 1510,1267.47 1511,1267.41 1512,1266.64 1513,1267.48 1514,1266.7 1515,1266.78 1516,1267.46 1517,1266.99 1518,1267.91 1519,1267.38 1520,1267.19 1521,1267.88 1522,1266.83 1523,1267.83 1524,1266.92 1525,1267.08 1526,1268.23 1527,1267.88 1528,1267.26 1529,1267.14 1530,1268.37 1531,1267.96 1532,1268.21 1533,1267.28 1534,1267.99 1535,1267.64 1536,1267.49 1537,1267.66 1538,1268.08 1539,1267.73 1540,1267.81 1541,1267.49 1542.01,1268.48 1543.02,1268.24 1544.02,1268.48 1545.03,1267.97 1546.04,1268.57 1547.05,1268.12 1548.06,1268.24 1549.07,1268.23 1550.07,1268.48 1551.08,1268.02 1552.09,1267.62 1553.1,1267.54 1554.11,1267.8 1555.11,1267.58 1556.12,1268.79 1557.13,1268.24 1558.14,1268.64 1559.15,1267.6 1560.16,1268.27 1561.16,1268.87 1562.17,1268.51 1563.18,1268.26 1564.19,1268.33 1565.2,1267.83 1566.2,1267.93 1567.21,1267.95 1568.22,1268.27 1569.23,1268.3 1570.24,1269.01 1571.25,1268 1572.25,1268.16 1573.26,1268.21 1574.27,1268.07 1575.28,1268.26 1576.29,1268.2 1577.3,1268.57 1578.3,1267.95 1579.31,1269.22 1580.32,1268.46 1581.33,1269.27 1582.34,1268.93 1583.34,1268.93 1584.35,1268.67 1585.36,1269.34 1586.37,1268.2 1587.38,1268.99 1588.39,1268.48 1589.39,1269.03 1590.4,1269.12 1591.41,1268.35 1592.42,1268.42 1593.43,1268.19 1594.43,1268.49 1595.44,1268.29 1596.45,1268.76 1597.46,1269.58 1598.47,1268.74 1599.48,1268.69 1600.48,1268.92 1601.49,1268.68 1602.5,1269.33 1603.5,1269.28 1604.5,1268.48 1605.5,1268.56 1606.5,1269.14 1607.5,1269.49 1608.5,1269.06 1609.5,1268.73 1610.5,1269.47 1611.5,1268.09 1612.5,1268.14 1613.5,1269.12 1614.5,1268.58 1615.5,1268.05 1616.5,1268.73 1617.5,1269.32 1618.5,1268.64 1619.5,1268.38 1620.5,1267.99 1621.5,1267.94 1622.5,1269.07 1623.5,1268.48 1624.5,1269.07 1625.5,1267.81 1626.5,1268.06 1627.5,1267.76 1628.5,1268.22 1629.5,1267.73 1630.5,1267.97 1631.5,1268.16 1632.5,1268 1633.5,1267.62 1634.5,1267.57 1635.5,1268.86 1636.5,1267.72 1637.5,1268.16 1638.5,1267.99 1639.5,1268.14 1640.5,1267.49 1641.5,1267.79 1642.5,1267.48 1643.5,1268.06 1644.5,1268.52 1645.5,1268.01 1646.5,1268.3 1647.5,1267.34 1648.5,1267 1649.5,1267.66 1650.5,1267.52 1651.5,1267.57 1652.5,1267.23 1653.5,1267.52 1654.5,1267.59 1655.5,1267.79 1656.5,1266.87 1657.5,1267.01 1658.5,1267.47 1659.5,1266.56 1660.5,1266.34 1661.5,1266.55 1662.5,1266.17 1663.5,1267.06 1664.5,1267.06 1665.5,1266.29 1666.5,1265.97 1667.5,1265.83 1668.5,1266 1669.5,1265.71 1670.5,1266.12 1671.5,1266.26 1672.5,1265.73 1673.5,1265.41 1674.5,1266.24 1675.5,1265.26 1676.5,1265.41 1677.5,1265.46 1678.5,1265.52 1679.5,1265.07 1680.5,1265.45 1681.5,1265.24 1682.5,1265.78 1683.5,1265.44 1684.5,1265.85 1685.5,1265.46 1686.5,1265.56 1687.5,1265.25 1688.5,1265.01 1689.5,1265.49 1690.5,1265.21 1691.5,1265.58 1692.5,1265.21 1693.5,1265.12 1694.5,1264.46 1695.5,1265.17 1696.5,1264.52 1697.5,1264.12 1698.5,1263.98 1699.5,1264.07 1700.5,1264.15 1701.5,1264.68 1702.5,1264.08 1703.5,1263.72 1704.5,1264.64 1705.5,1264.3 1706.5,1263.51 1707.5,1263.49 1708.5,1263.55 1709.5,1263.82 1710.5,1264.47 1711.5,1264.55 1712.5,1264.02 1713.5,1263.44 1714.5,1263.66 1715.5,1263.52 1716.5,1263.42 1717.5,1262.93 1718.5,1263.68 1719.5,1263.97 1720.5,1263.77 1721.5,1262.84 1722.5,1263.4 1723.5,1262.84 1724.5,1263.54 1725.5,1263.12 1726.51,1263.84 1727.52,1263.67 1728.52,1262.75 1729.53,1263.06 1730.54,1263.92 1731.55,1263.31 1732.56,1263.3 1733.57,1263.34 1734.57,1263.83 1735.58,1264.09 1736.59,1263.55 1737.6,1264.19 1738.61,1263.7 1739.61,1263.04 1740.62,1264.06 1741.63,1263.53 1742.64,1263.05 1743.65,1264.37 1744.66,1263.08 1745.66,1263.87 1746.67,1263.76 1747.68,1264.35 1748.69,1263.69 1749.7,1263.47 1750.7,1263.58 1751.71,1263.51 1752.72,1264.04 1753.73,1263.78 1754.74,1264.36 1755.75,1263.67 1756.75,1263.86 1757.76,1263.74 1758.77,1264.8 1759.78,1264.62 1760.79,1264.67 1761.8,1264.37 1762.8,1264.09 1763.81,1263.76 1764.82,1264.75 1765.83,1264.3 1766.84,1263.7 1767.84,1263.91 1768.85,1263.84 1769.86,1264.73 1770.87,1265.01 1771.88,1264.06 1772.89,1264.93 1773.89,1264.29 1774.9,1264.82 1775.91,1265.1 1776.92,1264.79 1777.93,1265.07 1778.93,1264.5 1779.94,1264.02 1780.95,1264.75 1781.96,1264.88 1782.97,1264.35 1783.98,1264.66 1784.98,1264.59 1785.99,1264.21 1787,1264.64 1788,1264.71 1789,1264.81 1790,1265.1 1791,1264.65 1792,1265.44 1793,1265.18 1794,1265.31 1795,1264.96 1796,1264.9 1797,1264.68 1798,1265.02 1799,1264.39 1800,1264.68 1801,1264.78 1802,1264.53 1803,1264.17 1804,1263.85 1805,1263.84 1806,1264.19 1807,1264.48 1808,1264.7 1809,1264.61 1810,1264.01 1811,1264.86 1812,1263.91 1813,1264.5 1814,1263.58 1815,1264.5 1816,1264.36 1817,1264.73 1818,1264.62 1819,1264.3 1820,1264.49 1821,1264.32 1822,1264.12 1823,1263.53 1824,1263.93 1825,1264.44 1826,1263.49 1827,1264.49 1828,1263.86 1829,1263.64 1830,1263.09 1831,1263.62 1832,1263.32 1833,1263.97 1834,1264.31 1835,1264.32 1836,1263.89 1837,1263.57 1838,1263.17 1839,1263.97 1840,1263.77 1841,1263.99 1842,1263.51 1843,1264.22 1844,1263.26 1845,1263.39 1846,1263.32 1847,1263.81 1848,1264.19 1849,1263.16 1850,1263.8 1851,1263.98 1852,1263.21 1853,1262.98 1854,1263.68 1855,1264.04 1856,1264.1 1857,1263.88 1858,1263.43 1859,1263.44 1860,1263.57 1861,1264.09 1862,1263.24 1863,1263.2 1864,1263.65 1865,1264.14 1866,1263.05 1867,1262.82 1868,1262.93 1869,1263.55 1870,1263.59 1871,1263 1872,1263 1873,1263.56 1874,1263.62 1875,1263.67 1876,1263.72 1877,1262.78 1878,1263.36 1879,1263.84 1880,1264.01 1881,1263.1 1882,1263.84 1883,1263.54 1884,1263.93 1885,1262.95 1886,1263.59 1887,1263.79 1888,1263.27 1889,1262.73 1890,1262.85 1891,1262.79 1892,1262.7 1893,1262.77 1894,1263.41 1895,1262.69 1896,1263.59 1897,1263.56 1898,1263.66 1899,1263.63 1900,1263.2" fill="none" stroke="#FA8A61" stroke-width="4.2" stroke-linejoin="round" stroke-linecap="round" />
<polyline points="1116,1278.34 1117,1284.68 1118,1286.4 1119,1287.53 1120,1289.74 1121,1288.97 1122,1289.56 1123,1290.1 1124,1290.93 1125,1291.8 1126,1292.53 1127,1293.49 1128,1294.19 1129,1293.73 1130,1294.85 1131,1295.32 1132,1295.3 1133,1295.14 1134,1296.16 1135,1296.05 1136,1296.79 1137,1296.74 1138,1297.74 1139,1297.96 1140,1296.82 1141,1298.17 1142,1298.35 1143,1297.92 1144,1297.89 1145,1298.72 1146,1298.77 1147,1299.63 1148,1300.17 1149,1299.56 1150,1299.66 1151,1300.12 1152,1300.56 1153,1300.84 1154,1300.62 1155,1300.3 1156,1300.49 1157,1301.43 1158,1301.03 1158.5,1288.28 1159.55,1288.93 1160.59,1288.69 1161.64,1289.43 1162.68,1288.54 1163.73,1288.91 1164.77,1288.68 1165.82,1289.35 1166.86,1290.21 1167.91,1289.56 1168.95,1289.36 1170,1290.29 1171,1289.12 1172,1289.71 1173,1290.61 1174,1289.49 1175,1290.88 1176,1290.4 1177,1290.02 1178,1290.56 1179,1291.06 1180,1291.11 1181,1291.5 1182,1290.93 1183,1291.36 1184,1292.74 1185,1292.06 1186,1292.28 1187,1291.83 1188,1292.31 1189,1293.56 1190,1293.3 1191,1293.03 1192,1292.31 1193,1292.87 1194,1293.51 1195,1292.97 1196,1293.24 1197,1293.75 1198,1293.35 1199,1293.35 1200,1292.41 1201,1292.4 1202,1293.61 1203,1293.06 1204,1293.81 1205,1293.75 1206,1293.9 1207,1293.06 1208,1294.07 1209,1293.69 1210,1293.93 1211,1292.75 1212,1293.78 1213,1293.22 1214,1294.12 1215,1294.17 1216,1292.94 1217,1293.28 1218,1293.05 1219,1293.39 1220,1293.11 1221,1293.73 1222,1292.88 1223,1292.97 1224,1293.44 1225,1292.84 1226,1293.35 1227,1294.19 1228,1294.19 1229,1293.1 1230,1292.83 1231,1293.63 1232,1293.34 1233,1292.26 1234,1291.02 1235,1290.68 1236,1291.27 1237,1290.8 1238,1288.85 1239,1289.12 1240,1289.54 1241,1289.3 1242,1290.11 1243,1289.52 1244,1290.19 1245,1289.22 1246,1289.83 1247,1290.58 1248,1290.17 1249,1289.22 1250,1289.28 1251,1290.15 1252,1289.75 1253,1289.76 1254,1289.96 1255,1290.16 1256,1290.8 1257,1289.66 1258,1290.21 1259,1289.75 1260,1290.22 1261,1290.55 1262,1289.61 1263,1290.19 1264,1290.58 1265,1289.49 1266,1290.73 1267,1290.2 1268,1290.36 1269,1290.55 1270,1290.87 1271,1289.42 1272,1289.86 1273,1288.85 1274,1289.14 1275,1288.8 1276,1288.01 1277,1288.19 1278,1288.16 1279,1288.22 1280,1288.38 1281,1287.22 1282,1287.21 1283,1287.23 1284,1287.32 1285,1287.07 1286,1286.86 1287,1285.49 1288,1285.01 1289,1285.96 1290,1284.32 1291,1284.79 1292,1285.12 1293,1284.66 1294,1284.3 1295,1285.03 1296,1283.9 1297,1284.17 1298,1284.49 1299,1283.25 1300,1283.46 1301,1283.56 1302,1283.55 1303,1282.84 1304,1283.11 1305,1282.35 1306,1282.26 1307,1282.54 1308,1282.09 1309,1283.28 1310,1282.02 1311,1282.04 1312,1282.85 1313,1282.79 1314,1282.02 1315,1282.93 1316,1282.6 1317,1282.22 1318,1282.61 1319,1281.99 1320,1282.02 1321,1283 1322,1282.3 1323,1283.04 1324,1281.88 1325,1281.82 1326,1281.68 1327,1282.78 1328,1282.5 1329,1281.62 1330,1281.67 1331,1283.05 1332,1282.66 1333,1283.39 1334,1282.2 1335,1283.21 1336,1282.59 1337,1283.69 1338,1283.64 1339,1283.78 1340,1283.29 1341,1284.59 1342,1283.38 1343,1284.55 1344,1286.79 1345,1287.1 1346,1288.31 1347,1288.99 1348,1289.34 1349,1289.78 1350,1289.55 1351,1288.56 1352,1289.53 1353,1289.9 1354,1288.79 1355,1289.86 1356,1289.11 1357,1289.23 1358,1288.8 1359,1290.06 1360,1289.73 1361,1290.39 1362,1289.74 1363,1289.3 1364,1289.45 1365,1289.57 1366,1290.71 1367,1289.58 1368,1289.44 1369,1289.91 1370,1289.53 1371,1290.13 1372,1290.49 1373,1290.59 1374,1289.88 1375,1289.87 1376,1290.49 1377,1290.85 1378,1290.52 1379,1290.77 1380,1291.36 1381,1290.18 1382,1290.43 1383,1290.84 1384,1290.96 1385,1291.59 1386,1291.09 1387,1290.51 1388,1289.37 1389,1289.2 1390,1288.54 1391,1287.75 1392,1287.54 1393,1287.86 1394,1288.11 1395,1289.04 1396,1288.12 1397,1288.79 1398,1288.89 1399,1289.48 1400,1288.22 1401,1289.35 1402,1288.74 1403,1289.21 1404,1290.91 1405,1292.1 1406,1292.53 1407,1291.68 1408,1293.16 1409,1292.21 1410,1292.62 1411,1292.76 1412,1292.02 1413,1292.25 1414,1292.13 1415,1291.75 1416,1291.7 1417,1292.75 1418,1292.26 1419,1292.99 1420,1291.7 1421,1292.08 1422,1291.89 1423,1293.11 1424,1292.86 1425,1293.03 1426,1292.41 1427,1291.77 1428,1292.27 1429,1291.96 1430,1291.64 1431,1292.5 1432,1292.06 1433,1291.77 1434,1292.42 1435,1293.09 1436,1293.11 1437,1292.35 1438,1291.76 1439,1292.83 1440,1291.78 1441,1292.46 1442,1291.73 1443,1293.18 1444,1292.47 1445,1292.3 1446,1292.04 1447,1292.48 1448,1293.16 1449,1292.28 1450,1291.93 1451,1292.42 1452,1293.07 1453,1292.21 1454,1292.61 1455,1293.07 1456,1292.12 1457,1292.9 1458,1292.45 1459,1291.82 1460,1291.69 1461,1293.1 1462,1292.35 1463,1291.21 1464,1290.87 1465,1289.22 1466,1288 1467,1287.9 1468,1288.89 1469,1288.36 1470,1288.95 1471,1289.66 1472,1289.67 1473,1289.16 1474,1289.52 1475,1290.35 1476,1290.45 1477,1289.49 1478,1290.97 1479,1289.62 1480,1289.72 1481,1289.64 1482,1290.25 1483,1290.57 1484,1290.99 1485,1289.93 1486,1290.83 1487,1289.92 1488,1290.72 1489,1290.24 1490,1290.45 1491,1290 1492,1291.11 1493,1290.2 1494,1291.27 1495,1290.63 1496,1291.08 1497,1291.2 1498,1291 1499,1291.66 1500,1291.77 1501,1290.79 1502,1290.9 1503,1291.81 1504,1290.65 1505,1291.14 1506,1291.17 1507,1292.1 1508,1290.78 1509,1291.66 1510,1291.85 1511,1291.84 1512,1290.71 1513,1292.25 1514,1291.28 1515,1292.18 1516,1291.9 1517,1291.55 1518,1292.25 1519,1292.03 1520,1291.53 1521,1292.19 1522,1291.86 1523,1292.22 1524,1292.1 1525,1292.43 1526,1291.44 1527,1292.01 1528,1291.26 1529,1292.56 1530,1292.56 1531,1292.7 1532,1291.46 1533,1292.28 1534,1292.23 1535,1291.69 1536,1291.85 1537,1293.12 1538,1292.96 1539,1292.01 1540,1292.99 1541,1292.74 1542,1292.38 1543,1292.86 1544,1292.26 1545,1292.4 1546,1292.05 1547,1293.15 1548,1293.09 1549,1293.42 1550,1293.1 1551,1293.05 1552,1292.91 1553,1293.67 1554,1293.15 1555,1293.58 1556,1293.9 1557,1293.46 1558,1293.92 1559,1292.98 1560,1293.37 1561,1294.36 1562,1293.32 1563,1293.24 1564,1293.24 1565,1294.51 1566,1293.52 1567,1294.15 1568,1294.18 1569,1294.83 1570,1294.37 1571,1294.51 1572,1293.78 1573,1295.08 1574,1295.1 1575,1294.94 1576,1295.34 1577,1295.05 1578,1295.28 1579,1295.56 1580,1295.26 1581,1294.37 1582,1295.82 1583,1295.99 1584,1294.74 1585,1294.53 1586,1294.98 1587,1294.61 1588,1295.05 1589,1294.61 1590,1294.83 1591,1294.49 1592,1295.18 1593,1294.99 1594,1295.68 1595,1295.15 1596,1294.8 1597,1296.07 1598,1295.99 1599,1295.67 1600,1294.92 1601,1295.23 1602,1295.32 1603,1295.26 1604,1294.66 1605,1295.35 1606,1295.86 1607,1295.75 1608,1296.03 1609,1295.76 1610,1295.89 1611,1296.08 1612,1296.16 1613,1295.97 1614,1295.38 1615,1295.78 1616,1295.78 1617,1296.15 1618,1295.89 1619,1295.47 1620,1295.08 1621,1295.3 1622,1295.19 1623,1295.89 1624,1296.04 1625,1295.13 1626,1295.68 1627,1296.18 1628,1295.43 1629,1295.01 1630,1295.84 1631,1295.46 1632,1295.12 1633,1295.36 1634,1294.92 1635,1295.16 1636,1295.61 1637,1295.1 1638,1294.96 1639,1295.84 1640,1296.5 1641,1296.31 1642,1295.51 1643,1296.47 1644,1295.13 1645,1295.26 1646,1295.04 1647,1295.13 1648,1296.01 1649,1296.26 1650,1295.83 1651,1296.36 1652,1295.8 1653,1296.56 1654,1296.08 1655,1295.97 1656,1295.4 1657,1295.81 1658,1295.85 1659,1296.47 1660,1295.53 1661,1295.64 1662,1296.49 1663,1295.3 1664,1296.06 1665.01,1295.6 1666.02,1296.35 1667.02,1296.28 1668.03,1295.53 1669.04,1296.59 1670.05,1296.12 1671.06,1296.02 1672.07,1296.92 1673.07,1296.84 1674.08,1296.14 1675.09,1296.77 1676.1,1295.93 1677.11,1296.61 1678.11,1295.95 1679.12,1296.89 1680.13,1297.37 1681.14,1296.97 1682.15,1296.06 1683.16,1296.86 1684.16,1296.84 1685.17,1296.84 1686.18,1296.42 1687.19,1296.66 1688.2,1296.98 1689.2,1296.42 1690.21,1297.43 1691.22,1296.78 1692.23,1296.9 1693.24,1296.63 1694.25,1297.01 1695.25,1298.06 1696.26,1297.08 1697.27,1296.81 1698.28,1297.26 1699.29,1298.26 1700.3,1296.93 1701.3,1297.39 1702.31,1297.22 1703.32,1298.02 1704.33,1297.71 1705.34,1297.17 1706.34,1298.44 1707.35,1297.63 1708.36,1298.25 1709.37,1297.92 1710.38,1298.63 1711.39,1297.37 1712.39,1297.69 1713.4,1297.83 1714.41,1297.84 1715.42,1298.77 1716.43,1298.31 1717.43,1298.1 1718.44,1298.4 1719.45,1298.99 1720.46,1298.59 1721.47,1298.45 1722.48,1298.82 1723.48,1298.8 1724.49,1298.5 1725.5,1298.58 1726.51,1298.13 1727.52,1298.63 1728.53,1299.35 1729.54,1298.45 1730.55,1298.56 1731.56,1298.96 1732.56,1298.95 1733.57,1298.3 1734.58,1298.75 1735.59,1299.23 1736.6,1298.14 1737.61,1298.26 1738.62,1299.31 1739.63,1299.56 1740.64,1298.24 1741.65,1298.28 1742.66,1299.16 1743.67,1298.63 1744.68,1299.24 1745.68,1298.26 1746.69,1298.95 1747.7,1298.5 1748.71,1298.79 1749.72,1299.38 1750.73,1299.1 1751.74,1299.67 1752.75,1299.66 1753.76,1299.32 1754.77,1299.7 1755.78,1298.65 1756.79,1299.14 1757.8,1298.9 1758.8,1299.41 1759.81,1298.6 1760.82,1299.85 1761.83,1299.05 1762.84,1299.72 1763.85,1299.99 1764.86,1300 1765.87,1299.14 1766.88,1299.9 1767.89,1300.14 1768.9,1298.77 1769.91,1299.77 1770.92,1299.76 1771.92,1299.34 1772.93,1299.07 1773.94,1298.92 1774.95,1299.31 1775.96,1300.16 1776.97,1299.33 1777.98,1299.11 1778.99,1299.71 1780,1299.43 1781.01,1299.73 1782.02,1299.49 1783.03,1299.24 1784.04,1298.85 1785.04,1300.12 1786.05,1299.88 1787.06,1299.23 1788.07,1299.65 1789.08,1299.8 1790.09,1299.69 1791.1,1300.34 1792.15,1297.6 1793.2,1294.29 1794.23,1294.26 1795.25,1294.61 1796.28,1293.81 1797.3,1294.96 1798.33,1293.46 1799.35,1294.1 1800.38,1293.65 1801.4,1293.98 1802.42,1293.12 1803.45,1293.33 1804.47,1294.47 1805.5,1294.06 1806.5,1291.92 1807.5,1291.06 1808.5,1289.15 1809.53,1289.45 1810.55,1289.71 1811.57,1291.12 1812.6,1290.2 1814.3,1279.8 1815.7,1301.1 1816.73,1291.94 1817.77,1284.13 1818.8,1274.48 1819.8,1306.57 1820.85,1294.64 1821.9,1282.75 1823.5,1303.41 1824.75,1299.17 1826,1295.23 1827,1297.98 1828,1301.23 1829,1305.18 1830,1307.89 1831.03,1307.69 1832.06,1308.73 1833.08,1310.18 1834.11,1310.75 1835.14,1311.13 1836.17,1311.7 1837.19,1312.56 1838.22,1312.57 1839.25,1312.86 1840.28,1313.74 1841.31,1313.85 1842.33,1314.03 1843.36,1314.95 1844.39,1315.84 1845.42,1315.88 1846.44,1316.38 1847.47,1317.22 1848.5,1317.99 1849.53,1319.34 1850.55,1319 1851.58,1319.97 1852.6,1320.23 1853.62,1320.4 1854.65,1320.38 1855.67,1320.9 1856.7,1321.19 1857.72,1322.1 1858.75,1322.87 1859.78,1323.17 1860.8,1322.79 1861.83,1322.97 1862.85,1323.15 1863.88,1324.49 1864.9,1324.32 1865.92,1324.38 1866.95,1325.26 1867.97,1325.56 1869,1325.93 1870,1326.96 1871,1327.13 1872,1326.94 1873,1327.96 1874,1327.41 1875,1328.85 1876,1327.87 1877,1328.92 1878,1329.4 1879,1329.74 1880,1329.64 1881,1330.56 1882,1330.46 1883,1330.86 1884,1330.18 1885,1330.65 1886,1331.39 1887,1331.81 1888,1331.39 1889,1332.72 1890,1332.39 1891,1332.89 1892,1333.26 1893,1334.06 1894,1333.5 1895,1334.21 1896,1334.58 1897,1334.96 1898,1334.71 1899,1334.95 1900,1335.6" fill="none" stroke="#62C2A2" stroke-width="4.2" stroke-linejoin="round" stroke-linecap="round" />
<circle cx="1145" cy="1190" r="5" fill="url(#g0)"/>
<circle cx="1164.5" cy="1186.5" r="5" fill="url(#g0)"/>
<circle cx="1193" cy="1184.5" r="5" fill="url(#g0)"/>
<circle cx="1215" cy="1180.5" r="5" fill="url(#g0)"/>
<circle cx="1337" cy="1186.5" r="5" fill="url(#g0)"/>
<circle cx="1366.5" cy="1186.5" r="5" fill="url(#g0)"/>
<circle cx="1405" cy="1190" r="5" fill="url(#g0)"/>
<circle cx="1436.5" cy="1188" r="5" fill="url(#g0)"/>
<circle cx="1599" cy="1185" r="5" fill="url(#g0)"/>
<circle cx="1631" cy="1181" r="5" fill="url(#g0)"/>
<circle cx="1672" cy="1184" r="5" fill="url(#g0)"/>
<circle cx="1705.5" cy="1181" r="5" fill="url(#g0)"/>
<circle cx="1730" cy="1186.5" r="5" fill="url(#g0)"/>
<circle cx="1838.5" cy="1188.5" r="5" fill="url(#g0)"/>
<circle cx="1874.5" cy="1190.5" r="5" fill="url(#g0)"/>
<circle cx="1153" cy="1178.5" r="5" fill="url(#g1)"/>
<circle cx="1172" cy="1175" r="5" fill="url(#g1)"/>
<circle cx="1201.5" cy="1176" r="5" fill="url(#g1)"/>
<circle cx="1221.5" cy="1178.5" r="5" fill="url(#g1)"/>
<circle cx="1358" cy="1181.5" r="5" fill="url(#g1)"/>
<circle cx="1395.5" cy="1176" r="5" fill="url(#g1)"/>
<circle cx="1446.5" cy="1178.5" r="5" fill="url(#g1)"/>
<circle cx="1465" cy="1176" r="5" fill="url(#g1)"/>
<circle cx="1613" cy="1177.5" r="5" fill="url(#g1)"/>
<circle cx="1652.5" cy="1177" r="5" fill="url(#g1)"/>
<circle cx="1695" cy="1179.5" r="5" fill="url(#g1)"/>
<circle cx="1828" cy="1176.5" r="5" fill="url(#g1)"/>
<circle cx="1863" cy="1182" r="5" fill="url(#g1)"/>
<circle cx="1899" cy="1187" r="5" fill="url(#g1)"/>
</g>
<rect x="1115.5" y="1096.5" width="785.5" height="385" fill="none" stroke="#000" stroke-width="1.8"/>
<line x1="1107.5" y1="1481.5" x2="1115.5" y2="1481.5" stroke="#000" stroke-width="1.8" stroke-linecap="butt"/>
<line x1="1107.5" y1="1385.25" x2="1115.5" y2="1385.25" stroke="#000" stroke-width="1.8" stroke-linecap="butt"/>
<line x1="1107.5" y1="1289" x2="1115.5" y2="1289" stroke="#000" stroke-width="1.8" stroke-linecap="butt"/>
<line x1="1107.5" y1="1192.75" x2="1115.5" y2="1192.75" stroke="#000" stroke-width="1.8" stroke-linecap="butt"/>
<line x1="1107.5" y1="1096.5" x2="1115.5" y2="1096.5" stroke="#000" stroke-width="1.8" stroke-linecap="butt"/>
<line x1="1111.5" y1="1433.38" x2="1115.5" y2="1433.38" stroke="#000" stroke-width="1.8" stroke-linecap="butt"/>
<line x1="1111.5" y1="1337.12" x2="1115.5" y2="1337.12" stroke="#000" stroke-width="1.8" stroke-linecap="butt"/>
<line x1="1111.5" y1="1240.88" x2="1115.5" y2="1240.88" stroke="#000" stroke-width="1.8" stroke-linecap="butt"/>
<line x1="1111.5" y1="1144.62" x2="1115.5" y2="1144.62" stroke="#000" stroke-width="1.8" stroke-linecap="butt"/>
<line x1="1301.6" y1="1481.5" x2="1301.6" y2="1488.5" stroke="#000" stroke-width="1.8" stroke-linecap="butt"/>
<line x1="1488.9" y1="1481.5" x2="1488.9" y2="1488.5" stroke="#000" stroke-width="1.8" stroke-linecap="butt"/>
<line x1="1676.2" y1="1481.5" x2="1676.2" y2="1488.5" stroke="#000" stroke-width="1.8" stroke-linecap="butt"/>
<line x1="1863.5" y1="1481.5" x2="1863.5" y2="1488.5" stroke="#000" stroke-width="1.8" stroke-linecap="butt"/>
<line x1="1207.95" y1="1481.5" x2="1207.95" y2="1485.5" stroke="#000" stroke-width="1.8" stroke-linecap="butt"/>
<line x1="1395.25" y1="1481.5" x2="1395.25" y2="1485.5" stroke="#000" stroke-width="1.8" stroke-linecap="butt"/>
<line x1="1582.55" y1="1481.5" x2="1582.55" y2="1485.5" stroke="#000" stroke-width="1.8" stroke-linecap="butt"/>
<line x1="1769.85" y1="1481.5" x2="1769.85" y2="1485.5" stroke="#000" stroke-width="1.8" stroke-linecap="butt"/>
<text x="1102.3" y="1489.06" font-family="'Liberation Serif','Times New Roman',serif" font-size="24" font-weight="bold" fill="#000" text-anchor="end" >-4.0</text>
<text x="1102.3" y="1392.81" font-family="'Liberation Serif','Times New Roman',serif" font-size="24" font-weight="bold" fill="#000" text-anchor="end" >-3.5</text>
<text x="1102.3" y="1296.56" font-family="'Liberation Serif','Times New Roman',serif" font-size="24" font-weight="bold" fill="#000" text-anchor="end" >-3.0</text>
<text x="1102.3" y="1200.31" font-family="'Liberation Serif','Times New Roman',serif" font-size="24" font-weight="bold" fill="#000" text-anchor="end" >-2.5</text>
<text x="1102.3" y="1104.06" font-family="'Liberation Serif','Times New Roman',serif" font-size="24" font-weight="bold" fill="#000" text-anchor="end" >-2.0</text>
<text x="1301.6" y="1514.5" font-family="'Liberation Serif','Times New Roman',serif" font-size="24" font-weight="bold" fill="#000" text-anchor="middle" >20</text>
<text x="1488.9" y="1514.5" font-family="'Liberation Serif','Times New Roman',serif" font-size="24" font-weight="bold" fill="#000" text-anchor="middle" >40</text>
<text x="1676.2" y="1514.5" font-family="'Liberation Serif','Times New Roman',serif" font-size="24" font-weight="bold" fill="#000" text-anchor="middle" >60</text>
<text x="1863.5" y="1514.5" font-family="'Liberation Serif','Times New Roman',serif" font-size="24" font-weight="bold" fill="#000" text-anchor="middle" >80</text>
<line x1="1901" y1="1481.5" x2="1909" y2="1481.5" stroke="#000" stroke-width="1.8" stroke-linecap="butt"/>
<text x="1914.5" y="1488.8" font-family="'Liberation Serif','Times New Roman',serif" font-size="24" font-weight="bold" fill="#000" text-anchor="start" >0</text>
<line x1="1901" y1="1417.33" x2="1909" y2="1417.33" stroke="#000" stroke-width="1.8" stroke-linecap="butt"/>
<text x="1914.5" y="1424.63" font-family="'Liberation Serif','Times New Roman',serif" font-size="24" font-weight="bold" fill="#000" text-anchor="start" >10</text>
<line x1="1901" y1="1353.16" x2="1909" y2="1353.16" stroke="#000" stroke-width="1.8" stroke-linecap="butt"/>
<text x="1914.5" y="1360.46" font-family="'Liberation Serif','Times New Roman',serif" font-size="24" font-weight="bold" fill="#000" text-anchor="start" >20</text>
<line x1="1901" y1="1288.99" x2="1909" y2="1288.99" stroke="#000" stroke-width="1.8" stroke-linecap="butt"/>
<text x="1914.5" y="1296.29" font-family="'Liberation Serif','Times New Roman',serif" font-size="24" font-weight="bold" fill="#000" text-anchor="start" >30</text>
<line x1="1901" y1="1224.82" x2="1909" y2="1224.82" stroke="#000" stroke-width="1.8" stroke-linecap="butt"/>
<text x="1914.5" y="1232.12" font-family="'Liberation Serif','Times New Roman',serif" font-size="24" font-weight="bold" fill="#000" text-anchor="start" >40</text>
<line x1="1901" y1="1160.65" x2="1909" y2="1160.65" stroke="#000" stroke-width="1.8" stroke-linecap="butt"/>
<text x="1914.5" y="1167.95" font-family="'Liberation Serif','Times New Roman',serif" font-size="24" font-weight="bold" fill="#000" text-anchor="start" >50</text>
<line x1="1901" y1="1096.48" x2="1909" y2="1096.48" stroke="#000" stroke-width="1.8" stroke-linecap="butt"/>
<text x="1914.5" y="1103.78" font-family="'Liberation Serif','Times New Roman',serif" font-size="24" font-weight="bold" fill="#000" text-anchor="start" >60</text>
<line x1="1901" y1="1449.41" x2="1905" y2="1449.41" stroke="#000" stroke-width="1.8" stroke-linecap="butt"/>
<line x1="1901" y1="1385.24" x2="1905" y2="1385.24" stroke="#000" stroke-width="1.8" stroke-linecap="butt"/>
<line x1="1901" y1="1321.08" x2="1905" y2="1321.08" stroke="#000" stroke-width="1.8" stroke-linecap="butt"/>
<line x1="1901" y1="1256.9" x2="1905" y2="1256.9" stroke="#000" stroke-width="1.8" stroke-linecap="butt"/>
<line x1="1901" y1="1192.74" x2="1905" y2="1192.74" stroke="#000" stroke-width="1.8" stroke-linecap="butt"/>
<line x1="1901" y1="1128.57" x2="1905" y2="1128.57" stroke="#000" stroke-width="1.8" stroke-linecap="butt"/>
<text x="1508.3" y="1547.4" font-family="'Liberation Serif','Times New Roman',serif" font-size="27.5" font-weight="bold" fill="#000" text-anchor="middle" textLength="141" lengthAdjust="spacingAndGlyphs" >Time (hour)</text>
<text x="1049" y="1283.4" font-family="'Liberation Serif','Times New Roman',serif" font-size="28" font-weight="bold" fill="#000" text-anchor="middle" textLength="136" lengthAdjust="spacingAndGlyphs" transform="rotate(-90 1049 1283.4)" >Volatge (V)</text>
<text x="1969.9" y="1280.3" font-family="'Liberation Serif','Times New Roman',serif" font-size="28" font-weight="bold" fill="#000" text-anchor="middle" textLength="154" lengthAdjust="spacingAndGlyphs" transform="rotate(-90 1969.9 1280.3)" >C<tspan font-size="15.5" dy="10">2</tspan><tspan dy="-10">H</tspan><tspan font-size="15.5" dy="10">4</tspan><tspan dy="-10"> FE (%)</tspan></text>
<text x="1422.5" y="1247" font-family="'Liberation Serif','Times New Roman',serif" font-size="28" font-weight="bold" fill="#FA8A61" text-anchor="start" textLength="145.5" lengthAdjust="spacingAndGlyphs" >NiFe-Boride</text>
<text x="1477.5" y="1329.5" font-family="'Liberation Serif','Times New Roman',serif" font-size="28" font-weight="bold" fill="#62C2A2" text-anchor="start" >IrO<tspan font-size="15.5" dy="10">2</tspan></text>
<text x="1701" y="1132.5" font-family="'Liberation Serif','Times New Roman',serif" font-size="26.5" font-weight="bold" fill="#000" text-anchor="start" textLength="177" lengthAdjust="spacingAndGlyphs" >At 200 mA/cm<tspan font-size="16" dy="-10">2</tspan></text></svg></body></html>
